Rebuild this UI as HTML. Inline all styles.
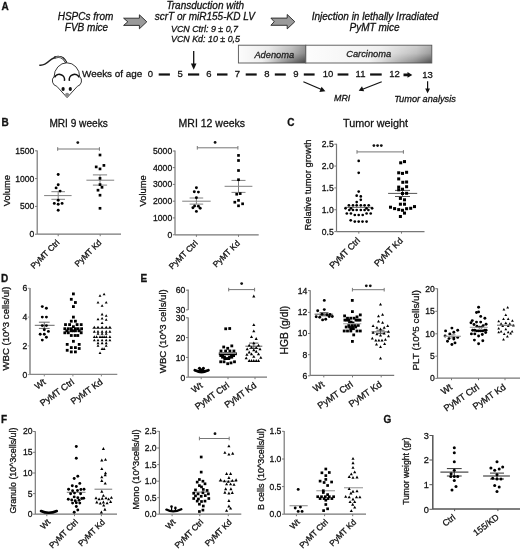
<!DOCTYPE html>
<html><head><meta charset="utf-8"><style>
html,body{margin:0;padding:0;background:#fff;}
svg{display:block;font-family:"Liberation Sans", sans-serif;filter:grayscale(1);}
text{stroke:#111;stroke-width:0.28px;paint-order:stroke;}
</style></head><body>
<svg width="520" height="549" viewBox="0 0 520 549">
<rect width="520" height="549" fill="#fff"/>
<text x="1.50" y="9.50" font-size="10" text-anchor="start" font-weight="bold" fill="#111">A</text>
<text x="85.50" y="20.30" font-size="10" text-anchor="middle" font-style="italic" fill="#111">HSPCs from</text>
<text x="86.50" y="31.00" font-size="10" text-anchor="middle" font-style="italic" fill="#111">FVB mice</text>
<path d="M123.6 18.2L139.4 18.2L139.4 14.8L146.8 21.8L139.4 28.8L139.4 25.400000000000002L123.6 25.400000000000002L127.8 21.8Z" fill="#9a9a9a" stroke="#222" stroke-width="0.9" stroke-linejoin="miter"/>
<path d="M270.9 18.099999999999998L287.2 18.099999999999998L287.2 14.5L294.8 21.7L287.2 28.9L287.2 25.3L270.9 25.3L274.2 21.7Z" fill="#9a9a9a" stroke="#222" stroke-width="0.9" stroke-linejoin="miter"/>
<text x="205.20" y="8.60" font-size="10" text-anchor="middle" font-style="italic" fill="#111">Transduction with</text>
<text x="204.80" y="20.10" font-size="10" text-anchor="middle" font-style="italic" fill="#111">scrT or miR155-KD LV</text>
<text x="204.50" y="31.80" font-size="8.9" text-anchor="middle" font-style="italic" fill="#111">VCN Ctrl: 9 ± 0,7</text>
<text x="205.50" y="42.40" font-size="8.9" text-anchor="middle" font-style="italic" fill="#111">VCN Kd: 10 ± 0,5</text>
<text x="375.00" y="20.00" font-size="10" text-anchor="middle" font-style="italic" fill="#111">Injection in lethally Irradiated</text>
<text x="374.60" y="31.00" font-size="10" text-anchor="middle" font-style="italic" fill="#111">PyMT mice</text>
<defs><linearGradient id="gA" x1="0" x2="1" y1="0" y2="0"><stop offset="0" stop-color="#fcfcfc"/><stop offset="0.45" stop-color="#ececec"/><stop offset="0.8" stop-color="#c4c4c4"/><stop offset="1" stop-color="#9a9a9a"/></linearGradient><linearGradient id="gC" x1="0" x2="1" y1="0" y2="0"><stop offset="0" stop-color="#fdfdfd"/><stop offset="0.6" stop-color="#f0f0f0"/><stop offset="0.88" stop-color="#d0d0d0"/><stop offset="1" stop-color="#b0b0b0"/></linearGradient><linearGradient id="gV" x1="0" x2="0" y1="0" y2="1"><stop offset="0" stop-color="#000" stop-opacity="0"/><stop offset="0.45" stop-color="#000" stop-opacity="0.12"/><stop offset="1" stop-color="#000" stop-opacity="0.55"/></linearGradient><linearGradient id="mhA" x1="0" x2="1" y1="0" y2="0"><stop offset="0" stop-color="#000"/><stop offset="0.35" stop-color="#000"/><stop offset="0.75" stop-color="#aaa"/><stop offset="1" stop-color="#fff"/></linearGradient><linearGradient id="mhC" x1="0" x2="1" y1="0" y2="0"><stop offset="0" stop-color="#000"/><stop offset="0.5" stop-color="#000"/><stop offset="0.85" stop-color="#999"/><stop offset="1" stop-color="#fff"/></linearGradient><mask id="mA" maskContentUnits="userSpaceOnUse"><rect x="238.4" y="45.2" width="67.4" height="17.8" fill="url(#mhA)"/></mask><mask id="mC" maskContentUnits="userSpaceOnUse"><rect x="305.8" y="45.2" width="126.0" height="17.8" fill="url(#mhC)"/></mask></defs>
<rect x="238.4" y="45.2" width="67.4" height="17.8" fill="url(#gA)"/>
<rect x="238.4" y="45.2" width="67.4" height="17.8" fill="url(#gV)" mask="url(#mA)"/>
<rect x="238.4" y="45.2" width="67.4" height="17.8" fill="none" stroke="#555" stroke-width="0.9"/>
<rect x="305.8" y="45.2" width="126.0" height="17.8" fill="url(#gC)"/>
<rect x="305.8" y="45.2" width="126.0" height="17.8" fill="url(#gV)" mask="url(#mC)"/>
<rect x="305.8" y="45.2" width="126.0" height="17.8" fill="none" stroke="#555" stroke-width="0.9"/>
<text x="274.30" y="57.60" font-size="9.3" text-anchor="middle" font-style="italic" fill="#222">Adenoma</text>
<text x="368.70" y="57.40" font-size="9.3" text-anchor="middle" font-style="italic" fill="#222">Carcinoma</text>
<text x="82.00" y="77.40" font-size="9.9" text-anchor="start" fill="#111">Weeks of age</text>
<text x="150.50" y="77.20" font-size="9.5" text-anchor="middle" fill="#111">0</text>
<text x="180.20" y="77.20" font-size="9.5" text-anchor="middle" fill="#111">5</text>
<text x="208.80" y="77.20" font-size="9.5" text-anchor="middle" fill="#111">6</text>
<text x="237.50" y="77.20" font-size="9.5" text-anchor="middle" fill="#111">7</text>
<text x="267.00" y="77.20" font-size="9.5" text-anchor="middle" fill="#111">8</text>
<text x="296.00" y="77.20" font-size="9.5" text-anchor="middle" fill="#111">9</text>
<text x="328.00" y="77.20" font-size="9.5" text-anchor="middle" fill="#111">10</text>
<text x="360.50" y="77.20" font-size="9.5" text-anchor="middle" fill="#111">11</text>
<text x="394.50" y="76.60" font-size="9.5" text-anchor="middle" fill="#111">12</text>
<text x="427.50" y="78.00" font-size="9.5" text-anchor="middle" fill="#111">13</text>
<rect x="158.7" y="73.4" width="11.2" height="2.2" fill="#111"/>
<rect x="188.0" y="73.4" width="11.2" height="2.2" fill="#111"/>
<rect x="217.0" y="73.4" width="10.5" height="2.2" fill="#111"/>
<rect x="245.7" y="73.4" width="11.0" height="2.2" fill="#111"/>
<rect x="274.8" y="73.4" width="11.0" height="2.2" fill="#111"/>
<rect x="303.8" y="73.4" width="10.8" height="2.2" fill="#111"/>
<rect x="337.6" y="73.4" width="10.8" height="2.2" fill="#111"/>
<rect x="370.1" y="73.4" width="11.6" height="2.2" fill="#111"/>
<path d="M403.5 73.6L407.5 73.6L407.5 72.0L412.3 74.9L407.5 77.8L407.5 76.2L403.5 76.2Z" fill="#111"/>
<line x1="193.70" y1="51.00" x2="193.70" y2="66.50" stroke="#111" stroke-width="1.3" stroke-linecap="butt"/>
<path d="M190.9 63.6L196.5 63.6L193.7 69.8Z" fill="#111"/>
<line x1="427.60" y1="81.30" x2="427.60" y2="90.50" stroke="#111" stroke-width="1.2" stroke-linecap="butt"/>
<path d="M425.2 88.4L430.0 88.4L427.6 93.2Z" fill="#111"/>
<line x1="303.40" y1="81.70" x2="321.50" y2="89.50" stroke="#111" stroke-width="1.2" stroke-linecap="butt"/>
<path d="M325.4 91.2L319.4 91.9L321.6 86.8Z" fill="#111"/>
<line x1="381.70" y1="81.70" x2="362.60" y2="89.20" stroke="#111" stroke-width="1.2" stroke-linecap="butt"/>
<path d="M358.7 90.8L362.0 86.2L364.2 91.3Z" fill="#111"/>
<text x="342.20" y="101.30" font-size="8.9" text-anchor="middle" font-style="italic" fill="#111">MRI</text>
<text x="425.00" y="102.00" font-size="9.2" text-anchor="middle" font-style="italic" fill="#111">Tumor analysis</text>
<path d="M39.8 65.2 C43.5 65.6 46.5 63.6 49.5 60.8 C52.5 58.0 55.5 56.8 58.8 56.9 C62.0 57.0 64.5 59.0 66.2 62.4" fill="none" stroke="#222" stroke-width="1.5" stroke-linecap="round"/>
<path d="M55.0 57.4 C56.5 56.9 57.7 56.8 58.8 56.9 C62.0 57.0 64.5 59.0 66.0 62.2" fill="none" stroke="#222" stroke-width="2.3" stroke-linecap="round"/>
<path d="M56.0 57.2 C57 56.95 57.8 56.9 58.8 56.95 C61.8 57.1 64.2 59.0 65.6 61.9" fill="none" stroke="#c8c8c8" stroke-width="0.9" stroke-linecap="round"/>
<path d="M54.1 76.8 A12.8 14.0 0 0 1 79.7 76.8" fill="#fff" stroke="#222" stroke-width="0.9"/>
<path d="M54.1 76.5 A5.8 5.8 0 0 0 56.8 86.3 L67.1 97.6 L77.4 86.3 A5.8 5.8 0 0 0 79.7 76.5" fill="#fff" stroke="#222" stroke-width="0.9" stroke-linejoin="round"/>
<path d="M54.5 77.3 A5.3 5.3 0 0 1 64.4 80.9" fill="none" stroke="#111" stroke-width="1.5"/>
<path d="M69.4 80.9 A5.3 5.3 0 0 1 79.3 77.3" fill="none" stroke="#111" stroke-width="1.5"/>
<ellipse cx="63.1" cy="89.0" rx="1.6" ry="1.9" fill="#111"/>
<ellipse cx="70.3" cy="89.0" rx="1.6" ry="1.9" fill="#111"/>
<circle cx="67.10" cy="94.80" r="2.0" fill="#8a8a8a"/>
<text x="1.50" y="125.80" font-size="10" text-anchor="start" font-weight="bold" fill="#111">B</text>
<text x="49.40" y="127.00" font-size="10.1" text-anchor="start" fill="#111">MRI 9 weeks</text>
<text x="178.60" y="126.70" font-size="10.5" text-anchor="start" fill="#111">MRI 12 weeks</text>
<line x1="37.20" y1="150.40" x2="37.20" y2="234.20" stroke="#777" stroke-width="1.2" stroke-linecap="butt"/>
<line x1="35.00" y1="150.80" x2="37.20" y2="150.80" stroke="#777" stroke-width="1" stroke-linecap="butt"/>
<text x="34.40" y="153.70" font-size="8.6" text-anchor="end" fill="#111">1500</text>
<line x1="35.00" y1="178.60" x2="37.20" y2="178.60" stroke="#777" stroke-width="1" stroke-linecap="butt"/>
<text x="34.40" y="181.50" font-size="8.6" text-anchor="end" fill="#111">1000</text>
<line x1="35.00" y1="206.40" x2="37.20" y2="206.40" stroke="#777" stroke-width="1" stroke-linecap="butt"/>
<text x="34.40" y="209.30" font-size="8.6" text-anchor="end" fill="#111">500</text>
<line x1="35.00" y1="234.20" x2="37.20" y2="234.20" stroke="#777" stroke-width="1" stroke-linecap="butt"/>
<text x="34.40" y="237.10" font-size="8.6" text-anchor="end" fill="#111">0</text>
<line x1="37.20" y1="234.20" x2="121.00" y2="234.20" stroke="#777" stroke-width="1.2" stroke-linecap="butt"/>
<line x1="58.20" y1="234.20" x2="58.20" y2="236.20" stroke="#777" stroke-width="1" stroke-linecap="butt"/>
<line x1="100.20" y1="234.20" x2="100.20" y2="236.20" stroke="#777" stroke-width="1" stroke-linecap="butt"/>
<text x="60.10" y="243.20" font-size="8.3" text-anchor="end" transform="rotate(-45 60.10 243.20)" fill="#111">PyMT Ctrl</text>
<text x="102.10" y="243.20" font-size="8.3" text-anchor="end" transform="rotate(-45 102.10 243.20)" fill="#111">PyMT Kd</text>
<text x="10.20" y="190.70" font-size="9.3" text-anchor="middle" transform="rotate(-90 10.20 190.70)" fill="#111">Volume</text>
<line x1="57.70" y1="149.00" x2="99.40" y2="149.00" stroke="#777" stroke-width="1" stroke-linecap="butt"/>
<line x1="57.70" y1="147.20" x2="57.70" y2="150.80" stroke="#777" stroke-width="1" stroke-linecap="butt"/>
<line x1="99.40" y1="147.20" x2="99.40" y2="150.80" stroke="#777" stroke-width="1" stroke-linecap="butt"/>
<circle cx="77.80" cy="142.60" r="1.4" fill="#111"/>
<line x1="44.10" y1="195.60" x2="71.60" y2="195.60" stroke="#808080" stroke-width="1.0" stroke-linecap="butt"/>
<line x1="51.40" y1="191.70" x2="65.00" y2="191.70" stroke="#808080" stroke-width="1.0" stroke-linecap="butt"/>
<line x1="51.40" y1="199.30" x2="65.00" y2="199.30" stroke="#808080" stroke-width="1.0" stroke-linecap="butt"/>
<line x1="58.20" y1="191.70" x2="58.20" y2="199.30" stroke="#808080" stroke-width="1.0" stroke-linecap="butt"/>
<line x1="86.40" y1="180.20" x2="114.20" y2="180.20" stroke="#808080" stroke-width="1.0" stroke-linecap="butt"/>
<line x1="92.90" y1="174.90" x2="107.10" y2="174.90" stroke="#808080" stroke-width="1.0" stroke-linecap="butt"/>
<line x1="92.90" y1="185.10" x2="107.10" y2="185.10" stroke="#808080" stroke-width="1.0" stroke-linecap="butt"/>
<line x1="100.00" y1="174.90" x2="100.00" y2="185.10" stroke="#808080" stroke-width="1.0" stroke-linecap="butt"/>
<line x1="175.00" y1="150.40" x2="175.00" y2="234.80" stroke="#777" stroke-width="1.2" stroke-linecap="butt"/>
<line x1="172.80" y1="151.00" x2="175.00" y2="151.00" stroke="#777" stroke-width="1" stroke-linecap="butt"/>
<text x="172.20" y="153.90" font-size="8.6" text-anchor="end" fill="#111">5000</text>
<line x1="172.80" y1="167.60" x2="175.00" y2="167.60" stroke="#777" stroke-width="1" stroke-linecap="butt"/>
<text x="172.20" y="170.50" font-size="8.6" text-anchor="end" fill="#111">4000</text>
<line x1="172.80" y1="184.40" x2="175.00" y2="184.40" stroke="#777" stroke-width="1" stroke-linecap="butt"/>
<text x="172.20" y="187.30" font-size="8.6" text-anchor="end" fill="#111">3000</text>
<line x1="172.80" y1="201.20" x2="175.00" y2="201.20" stroke="#777" stroke-width="1" stroke-linecap="butt"/>
<text x="172.20" y="204.10" font-size="8.6" text-anchor="end" fill="#111">2000</text>
<line x1="172.80" y1="217.90" x2="175.00" y2="217.90" stroke="#777" stroke-width="1" stroke-linecap="butt"/>
<text x="172.20" y="220.80" font-size="8.6" text-anchor="end" fill="#111">1000</text>
<line x1="172.80" y1="234.80" x2="175.00" y2="234.80" stroke="#777" stroke-width="1" stroke-linecap="butt"/>
<text x="172.20" y="237.70" font-size="8.6" text-anchor="end" fill="#111">0</text>
<line x1="175.00" y1="234.80" x2="258.70" y2="234.80" stroke="#777" stroke-width="1.2" stroke-linecap="butt"/>
<line x1="196.40" y1="234.80" x2="196.40" y2="236.80" stroke="#777" stroke-width="1" stroke-linecap="butt"/>
<line x1="238.50" y1="234.80" x2="238.50" y2="236.80" stroke="#777" stroke-width="1" stroke-linecap="butt"/>
<text x="198.30" y="243.80" font-size="8.3" text-anchor="end" transform="rotate(-45 198.30 243.80)" fill="#111">PyMT Ctrl</text>
<text x="240.40" y="243.80" font-size="8.3" text-anchor="end" transform="rotate(-45 240.40 243.80)" fill="#111">PyMT Kd</text>
<text x="146.50" y="190.90" font-size="9.3" text-anchor="middle" transform="rotate(-90 146.50 190.90)" fill="#111">Volume</text>
<line x1="197.30" y1="147.80" x2="237.90" y2="147.80" stroke="#777" stroke-width="1" stroke-linecap="butt"/>
<line x1="197.30" y1="146.00" x2="197.30" y2="149.60" stroke="#777" stroke-width="1" stroke-linecap="butt"/>
<line x1="237.90" y1="146.00" x2="237.90" y2="149.60" stroke="#777" stroke-width="1" stroke-linecap="butt"/>
<circle cx="215.10" cy="142.40" r="1.4" fill="#111"/>
<line x1="182.20" y1="201.20" x2="210.70" y2="201.20" stroke="#808080" stroke-width="1.0" stroke-linecap="butt"/>
<line x1="189.60" y1="198.00" x2="203.20" y2="198.00" stroke="#808080" stroke-width="1.0" stroke-linecap="butt"/>
<line x1="189.60" y1="204.10" x2="203.20" y2="204.10" stroke="#808080" stroke-width="1.0" stroke-linecap="butt"/>
<line x1="196.40" y1="198.00" x2="196.40" y2="204.10" stroke="#808080" stroke-width="1.0" stroke-linecap="butt"/>
<line x1="224.60" y1="186.30" x2="252.40" y2="186.30" stroke="#808080" stroke-width="1.0" stroke-linecap="butt"/>
<line x1="231.50" y1="180.40" x2="245.50" y2="180.40" stroke="#808080" stroke-width="1.0" stroke-linecap="butt"/>
<line x1="231.50" y1="192.40" x2="245.50" y2="192.40" stroke="#808080" stroke-width="1.0" stroke-linecap="butt"/>
<line x1="238.50" y1="180.40" x2="238.50" y2="192.40" stroke="#808080" stroke-width="1.0" stroke-linecap="butt"/>
<text x="287.20" y="125.80" font-size="10" text-anchor="start" font-weight="bold" fill="#111">C</text>
<text x="343.00" y="127.40" font-size="10.8" text-anchor="start" fill="#111">Tumor weight</text>
<line x1="336.50" y1="143.80" x2="336.50" y2="231.60" stroke="#777" stroke-width="1.2" stroke-linecap="butt"/>
<line x1="334.30" y1="144.20" x2="336.50" y2="144.20" stroke="#777" stroke-width="1" stroke-linecap="butt"/>
<text x="333.70" y="147.10" font-size="8.6" text-anchor="end" fill="#111">2.5</text>
<line x1="334.30" y1="166.05" x2="336.50" y2="166.05" stroke="#777" stroke-width="1" stroke-linecap="butt"/>
<text x="333.70" y="168.95" font-size="8.6" text-anchor="end" fill="#111">2.0</text>
<line x1="334.30" y1="187.90" x2="336.50" y2="187.90" stroke="#777" stroke-width="1" stroke-linecap="butt"/>
<text x="333.70" y="190.80" font-size="8.6" text-anchor="end" fill="#111">1.5</text>
<line x1="334.30" y1="209.75" x2="336.50" y2="209.75" stroke="#777" stroke-width="1" stroke-linecap="butt"/>
<text x="333.70" y="212.65" font-size="8.6" text-anchor="end" fill="#111">1.0</text>
<line x1="334.30" y1="231.60" x2="336.50" y2="231.60" stroke="#777" stroke-width="1" stroke-linecap="butt"/>
<text x="333.70" y="234.50" font-size="8.6" text-anchor="end" fill="#111">0.5</text>
<line x1="336.50" y1="231.60" x2="424.50" y2="231.60" stroke="#777" stroke-width="1.2" stroke-linecap="butt"/>
<line x1="358.80" y1="231.60" x2="358.80" y2="233.60" stroke="#777" stroke-width="1" stroke-linecap="butt"/>
<line x1="401.50" y1="231.60" x2="401.50" y2="233.60" stroke="#777" stroke-width="1" stroke-linecap="butt"/>
<text x="360.70" y="241.20" font-size="8.9" text-anchor="end" transform="rotate(-45 360.70 241.20)" fill="#111">PyMT Ctrl</text>
<text x="403.40" y="241.20" font-size="8.9" text-anchor="end" transform="rotate(-45 403.40 241.20)" fill="#111">PyMT Kd</text>
<text x="311.20" y="185.00" font-size="9.4" text-anchor="middle" transform="rotate(-90 311.20 185.00)" fill="#111">Relative tumor growth</text>
<line x1="357.00" y1="151.90" x2="403.40" y2="151.90" stroke="#777" stroke-width="1" stroke-linecap="butt"/>
<line x1="357.00" y1="150.10" x2="357.00" y2="153.70" stroke="#777" stroke-width="1" stroke-linecap="butt"/>
<line x1="403.40" y1="150.10" x2="403.40" y2="153.70" stroke="#777" stroke-width="1" stroke-linecap="butt"/>
<circle cx="373.90" cy="145.60" r="1.4" fill="#111"/>
<circle cx="377.60" cy="145.60" r="1.4" fill="#111"/>
<circle cx="381.30" cy="145.60" r="1.4" fill="#111"/>
<line x1="344.80" y1="207.30" x2="372.80" y2="207.30" stroke="#555" stroke-width="1.0" stroke-linecap="butt"/>
<line x1="388.10" y1="193.40" x2="417.20" y2="193.40" stroke="#555" stroke-width="1.0" stroke-linecap="butt"/>
<line x1="395.00" y1="190.40" x2="410.00" y2="190.40" stroke="#555" stroke-width="1.0" stroke-linecap="butt"/>
<line x1="395.00" y1="196.50" x2="410.00" y2="196.50" stroke="#555" stroke-width="1.0" stroke-linecap="butt"/>
<line x1="402.50" y1="190.40" x2="402.50" y2="196.50" stroke="#555" stroke-width="1.0" stroke-linecap="butt"/>
<text x="1.00" y="281.50" font-size="10" text-anchor="start" font-weight="bold" fill="#111">D</text>
<line x1="30.00" y1="288.00" x2="30.00" y2="374.60" stroke="#9a9a9a" stroke-width="1.8" stroke-linecap="butt"/>
<line x1="27.80" y1="288.30" x2="30.00" y2="288.30" stroke="#9a9a9a" stroke-width="1" stroke-linecap="butt"/>
<text x="27.20" y="291.20" font-size="8.6" text-anchor="end" fill="#111">6</text>
<line x1="27.80" y1="317.10" x2="30.00" y2="317.10" stroke="#9a9a9a" stroke-width="1" stroke-linecap="butt"/>
<text x="27.20" y="320.00" font-size="8.6" text-anchor="end" fill="#111">4</text>
<line x1="27.80" y1="345.90" x2="30.00" y2="345.90" stroke="#9a9a9a" stroke-width="1" stroke-linecap="butt"/>
<text x="27.20" y="348.80" font-size="8.6" text-anchor="end" fill="#111">2</text>
<line x1="27.80" y1="374.60" x2="30.00" y2="374.60" stroke="#9a9a9a" stroke-width="1" stroke-linecap="butt"/>
<text x="27.20" y="377.50" font-size="8.6" text-anchor="end" fill="#111">0</text>
<line x1="30.00" y1="374.40" x2="117.30" y2="374.40" stroke="#888" stroke-width="1.1" stroke-linecap="butt"/>
<line x1="44.30" y1="374.40" x2="44.30" y2="376.40" stroke="#888" stroke-width="1" stroke-linecap="butt"/>
<line x1="72.90" y1="374.40" x2="72.90" y2="376.40" stroke="#888" stroke-width="1" stroke-linecap="butt"/>
<line x1="101.40" y1="374.40" x2="101.40" y2="376.40" stroke="#888" stroke-width="1" stroke-linecap="butt"/>
<text x="46.30" y="383.20" font-size="9.0" text-anchor="end" transform="rotate(-36 46.30 383.20)" fill="#111">Wt</text>
<text x="74.90" y="383.20" font-size="9.0" text-anchor="end" transform="rotate(-36 74.90 383.20)" fill="#111">PyMT Ctrl</text>
<text x="103.40" y="383.20" font-size="9.0" text-anchor="end" transform="rotate(-36 103.40 383.20)" fill="#111">PyMT Kd</text>
<text x="9.40" y="328.60" font-size="9.6" text-anchor="middle" transform="rotate(-90 9.40 328.60)" fill="#111">WBC (10^3 cells/ul)</text>
<line x1="34.80" y1="325.30" x2="54.60" y2="325.30" stroke="#666" stroke-width="1.0" stroke-linecap="butt"/>
<line x1="38.90" y1="322.20" x2="49.70" y2="322.20" stroke="#666" stroke-width="1.0" stroke-linecap="butt"/>
<line x1="38.90" y1="328.40" x2="49.70" y2="328.40" stroke="#666" stroke-width="1.0" stroke-linecap="butt"/>
<line x1="44.30" y1="322.20" x2="44.30" y2="328.40" stroke="#666" stroke-width="1.0" stroke-linecap="butt"/>
<line x1="64.80" y1="331.00" x2="82.60" y2="331.00" stroke="#555" stroke-width="1.0" stroke-linecap="butt"/>
<line x1="92.50" y1="328.40" x2="111.60" y2="328.40" stroke="#555" stroke-width="1.0" stroke-linecap="butt"/>
<text x="140.60" y="281.50" font-size="10" text-anchor="start" font-weight="bold" fill="#111">E</text>
<line x1="188.20" y1="289.60" x2="188.20" y2="310.00" stroke="#777" stroke-width="1.2" stroke-linecap="butt"/>
<line x1="186.00" y1="290.20" x2="188.20" y2="290.20" stroke="#777" stroke-width="1" stroke-linecap="butt"/>
<text x="185.40" y="293.20" font-size="8.6" text-anchor="end" fill="#111">60</text>
<line x1="186.00" y1="309.90" x2="188.20" y2="309.90" stroke="#777" stroke-width="1" stroke-linecap="butt"/>
<text x="185.40" y="312.90" font-size="8.6" text-anchor="end" fill="#111">30</text>
<line x1="188.20" y1="317.40" x2="188.20" y2="377.30" stroke="#777" stroke-width="1.2" stroke-linecap="butt"/>
<line x1="186.00" y1="317.80" x2="188.20" y2="317.80" stroke="#777" stroke-width="1" stroke-linecap="butt"/>
<text x="185.40" y="321.30" font-size="8.6" text-anchor="end" fill="#111">30</text>
<line x1="186.00" y1="337.60" x2="188.20" y2="337.60" stroke="#777" stroke-width="1" stroke-linecap="butt"/>
<text x="185.40" y="341.10" font-size="8.6" text-anchor="end" fill="#111">20</text>
<line x1="186.00" y1="357.40" x2="188.20" y2="357.40" stroke="#777" stroke-width="1" stroke-linecap="butt"/>
<text x="185.40" y="360.90" font-size="8.6" text-anchor="end" fill="#111">10</text>
<line x1="186.00" y1="377.20" x2="188.20" y2="377.20" stroke="#777" stroke-width="1" stroke-linecap="butt"/>
<text x="185.40" y="380.70" font-size="8.6" text-anchor="end" fill="#111">0</text>
<line x1="188.20" y1="377.20" x2="267.00" y2="377.20" stroke="#777" stroke-width="1.2" stroke-linecap="butt"/>
<line x1="201.20" y1="377.20" x2="201.20" y2="379.20" stroke="#777" stroke-width="1" stroke-linecap="butt"/>
<line x1="228.00" y1="377.20" x2="228.00" y2="379.20" stroke="#777" stroke-width="1" stroke-linecap="butt"/>
<line x1="255.00" y1="377.20" x2="255.00" y2="379.20" stroke="#777" stroke-width="1" stroke-linecap="butt"/>
<text x="203.20" y="386.70" font-size="9.0" text-anchor="end" transform="rotate(-36 203.20 386.70)" fill="#111">Wt</text>
<text x="230.00" y="386.70" font-size="9.0" text-anchor="end" transform="rotate(-36 230.00 386.70)" fill="#111">PyMT Ctrl</text>
<text x="257.00" y="386.70" font-size="9.0" text-anchor="end" transform="rotate(-36 257.00 386.70)" fill="#111">PyMT Kd</text>
<text x="166.00" y="331.20" font-size="9.6" text-anchor="middle" transform="rotate(-90 166.00 331.20)" fill="#111">WBC (10^3 cells/ul)</text>
<line x1="228.70" y1="289.60" x2="254.60" y2="289.60" stroke="#777" stroke-width="1" stroke-linecap="butt"/>
<line x1="228.70" y1="287.80" x2="228.70" y2="291.40" stroke="#777" stroke-width="1" stroke-linecap="butt"/>
<line x1="254.60" y1="287.80" x2="254.60" y2="291.40" stroke="#777" stroke-width="1" stroke-linecap="butt"/>
<circle cx="241.65" cy="283.60" r="1.4" fill="#111"/>
<path d="M194.8 370.3 Q201.5 373.4 208.4 370.3" fill="none" stroke="#000" stroke-width="2.8" stroke-linecap="round"/>
<ellipse cx="201.5" cy="371.4" rx="4.2" ry="1.9" fill="#000"/>
<circle cx="199.50" cy="368.30" r="1.55" fill="#000"/>
<circle cx="203.40" cy="368.30" r="1.55" fill="#000"/>
<rect x="199.0" y="368.5" width="5" height="3.5" fill="#000"/>
<line x1="245.40" y1="346.20" x2="262.30" y2="346.20" stroke="#555" stroke-width="1.0" stroke-linecap="butt"/>
<line x1="249.20" y1="343.10" x2="258.40" y2="343.10" stroke="#555" stroke-width="1.0" stroke-linecap="butt"/>
<line x1="249.20" y1="348.50" x2="258.40" y2="348.50" stroke="#555" stroke-width="1.0" stroke-linecap="butt"/>
<line x1="253.80" y1="343.10" x2="253.80" y2="348.50" stroke="#555" stroke-width="1.0" stroke-linecap="butt"/>
<line x1="310.20" y1="290.20" x2="310.20" y2="375.80" stroke="#777" stroke-width="1.2" stroke-linecap="butt"/>
<line x1="308.00" y1="290.60" x2="310.20" y2="290.60" stroke="#777" stroke-width="1" stroke-linecap="butt"/>
<text x="307.40" y="293.50" font-size="8.6" text-anchor="end" fill="#111">14</text>
<line x1="308.00" y1="312.40" x2="310.20" y2="312.40" stroke="#777" stroke-width="1" stroke-linecap="butt"/>
<text x="307.40" y="315.30" font-size="8.6" text-anchor="end" fill="#111">12</text>
<line x1="308.00" y1="333.50" x2="310.20" y2="333.50" stroke="#777" stroke-width="1" stroke-linecap="butt"/>
<text x="307.40" y="336.40" font-size="8.6" text-anchor="end" fill="#111">10</text>
<line x1="308.00" y1="354.70" x2="310.20" y2="354.70" stroke="#777" stroke-width="1" stroke-linecap="butt"/>
<text x="307.40" y="357.60" font-size="8.6" text-anchor="end" fill="#111">8</text>
<line x1="308.00" y1="375.80" x2="310.20" y2="375.80" stroke="#777" stroke-width="1" stroke-linecap="butt"/>
<text x="307.40" y="378.70" font-size="8.6" text-anchor="end" fill="#111">6</text>
<line x1="310.20" y1="375.40" x2="394.20" y2="375.40" stroke="#777" stroke-width="1.2" stroke-linecap="butt"/>
<line x1="323.80" y1="375.40" x2="323.80" y2="377.40" stroke="#777" stroke-width="1" stroke-linecap="butt"/>
<line x1="352.50" y1="375.40" x2="352.50" y2="377.40" stroke="#777" stroke-width="1" stroke-linecap="butt"/>
<line x1="381.20" y1="375.40" x2="381.20" y2="377.40" stroke="#777" stroke-width="1" stroke-linecap="butt"/>
<text x="325.00" y="385.90" font-size="9.2" text-anchor="end" transform="rotate(-35 325.00 385.90)" fill="#111">Wt</text>
<text x="353.70" y="385.90" font-size="9.2" text-anchor="end" transform="rotate(-35 353.70 385.90)" fill="#111">PyMT Ctrl</text>
<text x="382.40" y="385.90" font-size="9.2" text-anchor="end" transform="rotate(-35 382.40 385.90)" fill="#111">PyMT Kd</text>
<text x="288.30" y="330.20" font-size="10.3" text-anchor="middle" transform="rotate(-90 288.30 330.20)" fill="#111">HGB (g/dl)</text>
<line x1="352.40" y1="289.70" x2="384.20" y2="289.70" stroke="#777" stroke-width="1" stroke-linecap="butt"/>
<line x1="352.40" y1="287.90" x2="352.40" y2="291.50" stroke="#777" stroke-width="1" stroke-linecap="butt"/>
<line x1="384.20" y1="287.90" x2="384.20" y2="291.50" stroke="#777" stroke-width="1" stroke-linecap="butt"/>
<circle cx="366.30" cy="285.80" r="1.4" fill="#111"/>
<circle cx="370.30" cy="285.80" r="1.4" fill="#111"/>
<line x1="314.60" y1="314.20" x2="333.10" y2="314.20" stroke="#555" stroke-width="1.0" stroke-linecap="butt"/>
<line x1="319.50" y1="312.70" x2="328.50" y2="312.70" stroke="#555" stroke-width="1.0" stroke-linecap="butt"/>
<line x1="319.50" y1="315.80" x2="328.50" y2="315.80" stroke="#555" stroke-width="1.0" stroke-linecap="butt"/>
<line x1="324.00" y1="312.70" x2="324.00" y2="315.80" stroke="#555" stroke-width="1.0" stroke-linecap="butt"/>
<line x1="371.50" y1="331.90" x2="389.20" y2="331.90" stroke="#555" stroke-width="1.0" stroke-linecap="butt"/>
<line x1="376.50" y1="330.20" x2="384.50" y2="330.20" stroke="#555" stroke-width="1.0" stroke-linecap="butt"/>
<line x1="376.50" y1="333.60" x2="384.50" y2="333.60" stroke="#555" stroke-width="1.0" stroke-linecap="butt"/>
<line x1="380.50" y1="330.20" x2="380.50" y2="333.60" stroke="#555" stroke-width="1.0" stroke-linecap="butt"/>
<line x1="437.50" y1="288.40" x2="437.50" y2="378.40" stroke="#777" stroke-width="1.2" stroke-linecap="butt"/>
<line x1="435.30" y1="288.70" x2="437.50" y2="288.70" stroke="#777" stroke-width="1" stroke-linecap="butt"/>
<text x="434.70" y="291.60" font-size="8.6" text-anchor="end" fill="#111">20</text>
<line x1="435.30" y1="311.30" x2="437.50" y2="311.30" stroke="#777" stroke-width="1" stroke-linecap="butt"/>
<text x="434.70" y="314.20" font-size="8.6" text-anchor="end" fill="#111">15</text>
<line x1="435.30" y1="333.80" x2="437.50" y2="333.80" stroke="#777" stroke-width="1" stroke-linecap="butt"/>
<text x="434.70" y="336.70" font-size="8.6" text-anchor="end" fill="#111">10</text>
<line x1="435.30" y1="356.20" x2="437.50" y2="356.20" stroke="#777" stroke-width="1" stroke-linecap="butt"/>
<text x="434.70" y="359.10" font-size="8.6" text-anchor="end" fill="#111">5</text>
<line x1="435.30" y1="378.40" x2="437.50" y2="378.40" stroke="#777" stroke-width="1" stroke-linecap="butt"/>
<text x="434.70" y="381.30" font-size="8.6" text-anchor="end" fill="#111">0</text>
<line x1="437.50" y1="378.20" x2="520.00" y2="378.20" stroke="#777" stroke-width="1.2" stroke-linecap="butt"/>
<line x1="451.50" y1="378.20" x2="451.50" y2="380.20" stroke="#777" stroke-width="1" stroke-linecap="butt"/>
<line x1="478.50" y1="378.20" x2="478.50" y2="380.20" stroke="#777" stroke-width="1" stroke-linecap="butt"/>
<line x1="505.00" y1="378.20" x2="505.00" y2="380.20" stroke="#777" stroke-width="1" stroke-linecap="butt"/>
<text x="452.90" y="388.50" font-size="9.2" text-anchor="end" transform="rotate(-35 452.90 388.50)" fill="#111">Wt</text>
<text x="479.90" y="388.50" font-size="9.2" text-anchor="end" transform="rotate(-35 479.90 388.50)" fill="#111">PyMT Ctrl</text>
<text x="506.40" y="388.50" font-size="9.2" text-anchor="end" transform="rotate(-35 506.40 388.50)" fill="#111">PyMT Kd</text>
<text x="419.00" y="330.20" font-size="9.9" text-anchor="middle" transform="rotate(-90 419.00 330.20)" fill="#111">PLT (10^5 cells/ul)</text>
<line x1="448.50" y1="334.50" x2="455.50" y2="334.50" stroke="#aaa" stroke-width="1.2" stroke-linecap="butt"/>
<line x1="448.50" y1="338.00" x2="455.50" y2="338.00" stroke="#aaa" stroke-width="1.2" stroke-linecap="butt"/>
<line x1="452.00" y1="334.50" x2="452.00" y2="338.00" stroke="#aaa" stroke-width="1.2" stroke-linecap="butt"/>
<text x="1.00" y="423.00" font-size="10" text-anchor="start" font-weight="bold" fill="#111">F</text>
<line x1="35.30" y1="431.20" x2="35.30" y2="514.20" stroke="#777" stroke-width="1.2" stroke-linecap="butt"/>
<line x1="33.10" y1="431.50" x2="35.30" y2="431.50" stroke="#777" stroke-width="1" stroke-linecap="butt"/>
<text x="32.50" y="434.40" font-size="8.6" text-anchor="end" fill="#111">20</text>
<line x1="33.10" y1="452.30" x2="35.30" y2="452.30" stroke="#777" stroke-width="1" stroke-linecap="butt"/>
<text x="32.50" y="455.20" font-size="8.6" text-anchor="end" fill="#111">15</text>
<line x1="33.10" y1="473.00" x2="35.30" y2="473.00" stroke="#777" stroke-width="1" stroke-linecap="butt"/>
<text x="32.50" y="475.90" font-size="8.6" text-anchor="end" fill="#111">10</text>
<line x1="33.10" y1="493.60" x2="35.30" y2="493.60" stroke="#777" stroke-width="1" stroke-linecap="butt"/>
<text x="32.50" y="496.50" font-size="8.6" text-anchor="end" fill="#111">5</text>
<line x1="33.10" y1="514.20" x2="35.30" y2="514.20" stroke="#777" stroke-width="1" stroke-linecap="butt"/>
<text x="32.50" y="517.10" font-size="8.6" text-anchor="end" fill="#111">0</text>
<line x1="35.30" y1="514.20" x2="117.00" y2="514.20" stroke="#777" stroke-width="1.2" stroke-linecap="butt"/>
<line x1="46.80" y1="514.20" x2="46.80" y2="516.20" stroke="#777" stroke-width="1" stroke-linecap="butt"/>
<line x1="74.50" y1="514.20" x2="74.50" y2="516.20" stroke="#777" stroke-width="1" stroke-linecap="butt"/>
<line x1="101.40" y1="514.20" x2="101.40" y2="516.20" stroke="#777" stroke-width="1" stroke-linecap="butt"/>
<text x="50.90" y="522.70" font-size="8.3" text-anchor="end" transform="rotate(-45 50.90 522.70)" fill="#111">Wt</text>
<text x="78.60" y="522.70" font-size="8.3" text-anchor="end" transform="rotate(-45 78.60 522.70)" fill="#111">PyMT Ctrl</text>
<text x="105.50" y="522.70" font-size="8.3" text-anchor="end" transform="rotate(-45 105.50 522.70)" fill="#111">PyMT Kd</text>
<text x="15.60" y="470.60" font-size="8.9" text-anchor="middle" transform="rotate(-90 15.60 470.60)" fill="#111">Granulo (10^3cells/ul)</text>
<path d="M41.0 511.0 Q48.6 514.6 56.8 511.0" fill="none" stroke="#000" stroke-width="2.6" stroke-linecap="round"/>
<line x1="66.80" y1="492.30" x2="85.50" y2="492.30" stroke="#777" stroke-width="1.0" stroke-linecap="butt"/>
<line x1="94.50" y1="489.20" x2="112.20" y2="489.20" stroke="#777" stroke-width="1.0" stroke-linecap="butt"/>
<line x1="159.40" y1="431.00" x2="159.40" y2="514.20" stroke="#777" stroke-width="1.2" stroke-linecap="butt"/>
<line x1="157.20" y1="431.30" x2="159.40" y2="431.30" stroke="#777" stroke-width="1" stroke-linecap="butt"/>
<text x="156.60" y="434.20" font-size="8.6" text-anchor="end" fill="#111">2.5</text>
<line x1="157.20" y1="448.00" x2="159.40" y2="448.00" stroke="#777" stroke-width="1" stroke-linecap="butt"/>
<text x="156.60" y="450.90" font-size="8.6" text-anchor="end" fill="#111">2.0</text>
<line x1="157.20" y1="464.60" x2="159.40" y2="464.60" stroke="#777" stroke-width="1" stroke-linecap="butt"/>
<text x="156.60" y="467.50" font-size="8.6" text-anchor="end" fill="#111">1.5</text>
<line x1="157.20" y1="481.20" x2="159.40" y2="481.20" stroke="#777" stroke-width="1" stroke-linecap="butt"/>
<text x="156.60" y="484.10" font-size="8.6" text-anchor="end" fill="#111">1.0</text>
<line x1="157.20" y1="497.70" x2="159.40" y2="497.70" stroke="#777" stroke-width="1" stroke-linecap="butt"/>
<text x="156.60" y="500.60" font-size="8.6" text-anchor="end" fill="#111">0.5</text>
<line x1="157.20" y1="514.20" x2="159.40" y2="514.20" stroke="#777" stroke-width="1" stroke-linecap="butt"/>
<text x="156.60" y="517.10" font-size="8.6" text-anchor="end" fill="#111">0.0</text>
<line x1="159.40" y1="514.20" x2="241.30" y2="514.20" stroke="#777" stroke-width="1.2" stroke-linecap="butt"/>
<line x1="172.10" y1="514.20" x2="172.10" y2="516.20" stroke="#777" stroke-width="1" stroke-linecap="butt"/>
<line x1="199.80" y1="514.20" x2="199.80" y2="516.20" stroke="#777" stroke-width="1" stroke-linecap="butt"/>
<line x1="228.30" y1="514.20" x2="228.30" y2="516.20" stroke="#777" stroke-width="1" stroke-linecap="butt"/>
<text x="176.20" y="522.70" font-size="8.3" text-anchor="end" transform="rotate(-45 176.20 522.70)" fill="#111">Wt</text>
<text x="203.90" y="522.70" font-size="8.3" text-anchor="end" transform="rotate(-45 203.90 522.70)" fill="#111">PyMT Ctrl</text>
<text x="232.40" y="522.70" font-size="8.3" text-anchor="end" transform="rotate(-45 232.40 522.70)" fill="#111">PyMT Kd</text>
<text x="139.20" y="469.50" font-size="9.3" text-anchor="middle" transform="rotate(-90 139.20 469.50)" fill="#111">Mono (10^3cells/ul)</text>
<line x1="199.40" y1="438.50" x2="229.20" y2="438.50" stroke="#777" stroke-width="1" stroke-linecap="butt"/>
<line x1="199.40" y1="436.70" x2="199.40" y2="440.30" stroke="#777" stroke-width="1" stroke-linecap="butt"/>
<line x1="229.20" y1="436.70" x2="229.20" y2="440.30" stroke="#777" stroke-width="1" stroke-linecap="butt"/>
<circle cx="215.00" cy="433.70" r="1.4" fill="#111"/>
<path d="M166.4 509.6 Q173.0 513.4 181.3 509.3" fill="none" stroke="#000" stroke-width="2.3" stroke-linecap="round"/>
<circle cx="171.50" cy="506.60" r="1.3" fill="#000"/>
<circle cx="175.40" cy="507.90" r="1.3" fill="#000"/>
<rect x="171.0" y="507.0" width="1.2" height="3.5" fill="#000"/>
<rect x="174.8" y="508.0" width="1.2" height="2.5" fill="#000"/>
<line x1="192.90" y1="492.10" x2="209.30" y2="492.10" stroke="#777" stroke-width="1.0" stroke-linecap="butt"/>
<line x1="218.80" y1="481.20" x2="237.00" y2="481.20" stroke="#777" stroke-width="1.0" stroke-linecap="butt"/>
<line x1="284.20" y1="431.00" x2="284.20" y2="514.20" stroke="#777" stroke-width="1.2" stroke-linecap="butt"/>
<line x1="282.00" y1="431.30" x2="284.20" y2="431.30" stroke="#777" stroke-width="1" stroke-linecap="butt"/>
<text x="281.40" y="434.20" font-size="8.6" text-anchor="end" fill="#111">1.5</text>
<line x1="282.00" y1="459.00" x2="284.20" y2="459.00" stroke="#777" stroke-width="1" stroke-linecap="butt"/>
<text x="281.40" y="461.90" font-size="8.6" text-anchor="end" fill="#111">1.0</text>
<line x1="282.00" y1="486.60" x2="284.20" y2="486.60" stroke="#777" stroke-width="1" stroke-linecap="butt"/>
<text x="281.40" y="489.50" font-size="8.6" text-anchor="end" fill="#111">0.5</text>
<line x1="282.00" y1="514.20" x2="284.20" y2="514.20" stroke="#777" stroke-width="1" stroke-linecap="butt"/>
<text x="281.40" y="517.10" font-size="8.6" text-anchor="end" fill="#111">0.0</text>
<line x1="284.20" y1="514.20" x2="366.00" y2="514.20" stroke="#777" stroke-width="1.2" stroke-linecap="butt"/>
<line x1="296.40" y1="514.20" x2="296.40" y2="516.20" stroke="#777" stroke-width="1" stroke-linecap="butt"/>
<line x1="324.60" y1="514.20" x2="324.60" y2="516.20" stroke="#777" stroke-width="1" stroke-linecap="butt"/>
<line x1="352.70" y1="514.20" x2="352.70" y2="516.20" stroke="#777" stroke-width="1" stroke-linecap="butt"/>
<text x="300.50" y="522.70" font-size="8.3" text-anchor="end" transform="rotate(-45 300.50 522.70)" fill="#111">Wt</text>
<text x="328.70" y="522.70" font-size="8.3" text-anchor="end" transform="rotate(-45 328.70 522.70)" fill="#111">PyMT Ctrl</text>
<text x="356.80" y="522.70" font-size="8.3" text-anchor="end" transform="rotate(-45 356.80 522.70)" fill="#111">PyMT Kd</text>
<text x="263.60" y="469.10" font-size="9.0" text-anchor="middle" transform="rotate(-90 263.60 469.10)" fill="#111">B cells (10^3cells/ul)</text>
<line x1="289.50" y1="505.70" x2="307.70" y2="505.70" stroke="#999" stroke-width="1.2" stroke-linecap="butt"/>
<line x1="316.30" y1="490.70" x2="335.00" y2="490.70" stroke="#aaa" stroke-width="1.3" stroke-linecap="butt"/>
<line x1="344.00" y1="487.70" x2="363.00" y2="487.70" stroke="#aaa" stroke-width="1.3" stroke-linecap="butt"/>
<text x="383.60" y="422.90" font-size="10" text-anchor="start" font-weight="bold" fill="#111">G</text>
<line x1="432.80" y1="435.00" x2="432.80" y2="509.30" stroke="#555" stroke-width="1.5" stroke-linecap="butt"/>
<line x1="429.40" y1="435.50" x2="432.80" y2="435.50" stroke="#555" stroke-width="1" stroke-linecap="butt"/>
<text x="428.80" y="438.70" font-size="9.2" text-anchor="end" fill="#111">3</text>
<line x1="429.40" y1="460.00" x2="432.80" y2="460.00" stroke="#555" stroke-width="1" stroke-linecap="butt"/>
<text x="428.80" y="463.20" font-size="9.2" text-anchor="end" fill="#111">2</text>
<line x1="429.40" y1="484.70" x2="432.80" y2="484.70" stroke="#555" stroke-width="1" stroke-linecap="butt"/>
<text x="428.80" y="487.90" font-size="9.2" text-anchor="end" fill="#111">1</text>
<line x1="429.40" y1="509.30" x2="432.80" y2="509.30" stroke="#555" stroke-width="1" stroke-linecap="butt"/>
<text x="428.80" y="512.50" font-size="9.2" text-anchor="end" fill="#111">0</text>
<line x1="432.80" y1="509.10" x2="520.00" y2="509.10" stroke="#555" stroke-width="1.5" stroke-linecap="butt"/>
<line x1="454.60" y1="509.10" x2="454.60" y2="511.10" stroke="#555" stroke-width="1" stroke-linecap="butt"/>
<line x1="497.90" y1="509.10" x2="497.90" y2="511.10" stroke="#555" stroke-width="1" stroke-linecap="butt"/>
<text x="456.20" y="518.50" font-size="8.8" text-anchor="end" transform="rotate(-37 456.20 518.50)" fill="#111">Ctrl</text>
<text x="499.50" y="518.50" font-size="8.8" text-anchor="end" transform="rotate(-37 499.50 518.50)" fill="#111">155/KD</text>
<text x="409.00" y="471.10" font-size="8.6" text-anchor="middle" transform="rotate(-90 409.00 471.10)" fill="#111">Tumor weight (gr)</text>
<line x1="440.40" y1="472.10" x2="468.40" y2="472.10" stroke="#333" stroke-width="1.1" stroke-linecap="butt"/>
<line x1="446.90" y1="468.60" x2="461.70" y2="468.60" stroke="#333" stroke-width="1.0" stroke-linecap="butt"/>
<line x1="446.90" y1="476.00" x2="461.70" y2="476.00" stroke="#333" stroke-width="1.0" stroke-linecap="butt"/>
<line x1="454.30" y1="468.60" x2="454.30" y2="476.00" stroke="#333" stroke-width="1.0" stroke-linecap="butt"/>
<line x1="483.10" y1="476.00" x2="510.00" y2="476.00" stroke="#333" stroke-width="1.1" stroke-linecap="butt"/>
<line x1="490.00" y1="473.10" x2="504.00" y2="473.10" stroke="#333" stroke-width="1.0" stroke-linecap="butt"/>
<line x1="490.00" y1="479.00" x2="504.00" y2="479.00" stroke="#333" stroke-width="1.0" stroke-linecap="butt"/>
<line x1="497.00" y1="473.10" x2="497.00" y2="479.00" stroke="#333" stroke-width="1.0" stroke-linecap="butt"/>
<circle cx="58.20" cy="174.50" r="1.4560000000000002" fill="#000"/>
<circle cx="58.20" cy="184.80" r="1.4560000000000002" fill="#000"/>
<circle cx="56.10" cy="187.90" r="1.4560000000000002" fill="#000"/>
<circle cx="60.10" cy="191.10" r="1.4560000000000002" fill="#000"/>
<circle cx="58.20" cy="200.20" r="1.4560000000000002" fill="#000"/>
<circle cx="54.30" cy="203.40" r="1.4560000000000002" fill="#000"/>
<circle cx="58.20" cy="204.30" r="1.4560000000000002" fill="#000"/>
<circle cx="62.10" cy="203.40" r="1.4560000000000002" fill="#000"/>
<circle cx="58.20" cy="210.30" r="1.4560000000000002" fill="#000"/>
<rect x="98.66" y="153.66" width="2.688" height="2.688" fill="#000"/>
<rect x="94.86" y="165.56" width="2.688" height="2.688" fill="#000"/>
<rect x="102.56" y="164.06" width="2.688" height="2.688" fill="#000"/>
<rect x="98.66" y="167.56" width="2.688" height="2.688" fill="#000"/>
<rect x="98.66" y="177.06" width="2.688" height="2.688" fill="#000"/>
<rect x="98.66" y="183.26" width="2.688" height="2.688" fill="#000"/>
<rect x="100.66" y="185.96" width="2.688" height="2.688" fill="#000"/>
<rect x="96.66" y="188.86" width="2.688" height="2.688" fill="#000"/>
<rect x="98.66" y="193.86" width="2.688" height="2.688" fill="#000"/>
<rect x="98.66" y="206.96" width="2.688" height="2.688" fill="#000"/>
<circle cx="196.40" cy="187.70" r="1.4560000000000002" fill="#000"/>
<circle cx="194.30" cy="191.80" r="1.4560000000000002" fill="#000"/>
<circle cx="198.40" cy="192.10" r="1.4560000000000002" fill="#000"/>
<circle cx="196.40" cy="197.70" r="1.4560000000000002" fill="#000"/>
<circle cx="194.60" cy="206.00" r="1.4560000000000002" fill="#000"/>
<circle cx="192.90" cy="207.70" r="1.4560000000000002" fill="#000"/>
<circle cx="198.40" cy="206.30" r="1.4560000000000002" fill="#000"/>
<circle cx="200.20" cy="208.20" r="1.4560000000000002" fill="#000"/>
<circle cx="196.40" cy="211.40" r="1.4560000000000002" fill="#000"/>
<rect x="237.16" y="154.06" width="2.688" height="2.688" fill="#000"/>
<rect x="237.16" y="159.16" width="2.688" height="2.688" fill="#000"/>
<rect x="237.16" y="169.16" width="2.688" height="2.688" fill="#000"/>
<rect x="237.16" y="178.36" width="2.688" height="2.688" fill="#000"/>
<rect x="235.36" y="192.86" width="2.688" height="2.688" fill="#000"/>
<rect x="238.86" y="192.26" width="2.688" height="2.688" fill="#000"/>
<rect x="233.46" y="200.86" width="2.688" height="2.688" fill="#000"/>
<rect x="237.16" y="199.06" width="2.688" height="2.688" fill="#000"/>
<rect x="241.26" y="202.46" width="2.688" height="2.688" fill="#000"/>
<rect x="237.16" y="204.46" width="2.688" height="2.688" fill="#000"/>
<circle cx="358.70" cy="160.90" r="1.344" fill="#000"/>
<circle cx="358.70" cy="172.80" r="1.344" fill="#000"/>
<circle cx="358.70" cy="191.60" r="1.344" fill="#000"/>
<circle cx="356.70" cy="195.70" r="1.344" fill="#000"/>
<circle cx="360.80" cy="196.40" r="1.344" fill="#000"/>
<circle cx="360.80" cy="199.80" r="1.344" fill="#000"/>
<circle cx="356.70" cy="202.10" r="1.344" fill="#000"/>
<circle cx="348.90" cy="205.30" r="1.344" fill="#000"/>
<circle cx="353.00" cy="205.30" r="1.344" fill="#000"/>
<circle cx="356.70" cy="205.30" r="1.344" fill="#000"/>
<circle cx="360.80" cy="205.30" r="1.344" fill="#000"/>
<circle cx="364.60" cy="205.30" r="1.344" fill="#000"/>
<circle cx="368.70" cy="205.30" r="1.344" fill="#000"/>
<circle cx="345.50" cy="208.30" r="1.344" fill="#000"/>
<circle cx="372.10" cy="208.30" r="1.344" fill="#000"/>
<circle cx="351.00" cy="208.30" r="1.344" fill="#000"/>
<circle cx="366.50" cy="208.30" r="1.344" fill="#000"/>
<circle cx="349.30" cy="210.00" r="1.344" fill="#000"/>
<circle cx="353.00" cy="210.00" r="1.344" fill="#000"/>
<circle cx="356.70" cy="210.00" r="1.344" fill="#000"/>
<circle cx="360.80" cy="210.00" r="1.344" fill="#000"/>
<circle cx="364.60" cy="210.00" r="1.344" fill="#000"/>
<circle cx="368.40" cy="210.00" r="1.344" fill="#000"/>
<circle cx="346.80" cy="213.50" r="1.344" fill="#000"/>
<circle cx="350.90" cy="213.50" r="1.344" fill="#000"/>
<circle cx="366.60" cy="213.50" r="1.344" fill="#000"/>
<circle cx="370.70" cy="213.50" r="1.344" fill="#000"/>
<circle cx="354.80" cy="215.00" r="1.344" fill="#000"/>
<circle cx="358.70" cy="215.00" r="1.344" fill="#000"/>
<circle cx="362.70" cy="215.00" r="1.344" fill="#000"/>
<circle cx="350.70" cy="220.30" r="1.344" fill="#000"/>
<circle cx="354.80" cy="221.60" r="1.344" fill="#000"/>
<circle cx="358.70" cy="221.60" r="1.344" fill="#000"/>
<circle cx="362.50" cy="221.60" r="1.344" fill="#000"/>
<circle cx="366.60" cy="221.60" r="1.344" fill="#000"/>
<rect x="399.19" y="161.29" width="3.0240000000000005" height="3.0240000000000005" fill="#000"/>
<rect x="402.99" y="160.09" width="3.0240000000000005" height="3.0240000000000005" fill="#000"/>
<rect x="397.19" y="171.29" width="3.0240000000000005" height="3.0240000000000005" fill="#000"/>
<rect x="400.99" y="171.89" width="3.0240000000000005" height="3.0240000000000005" fill="#000"/>
<rect x="405.09" y="170.79" width="3.0240000000000005" height="3.0240000000000005" fill="#000"/>
<rect x="397.19" y="177.39" width="3.0240000000000005" height="3.0240000000000005" fill="#000"/>
<rect x="401.29" y="180.79" width="3.0240000000000005" height="3.0240000000000005" fill="#000"/>
<rect x="405.09" y="180.49" width="3.0240000000000005" height="3.0240000000000005" fill="#000"/>
<rect x="397.19" y="185.59" width="3.0240000000000005" height="3.0240000000000005" fill="#000"/>
<rect x="405.09" y="185.19" width="3.0240000000000005" height="3.0240000000000005" fill="#000"/>
<rect x="397.19" y="188.29" width="3.0240000000000005" height="3.0240000000000005" fill="#000"/>
<rect x="400.99" y="187.69" width="3.0240000000000005" height="3.0240000000000005" fill="#000"/>
<rect x="400.99" y="191.99" width="3.0240000000000005" height="3.0240000000000005" fill="#000"/>
<rect x="405.09" y="191.79" width="3.0240000000000005" height="3.0240000000000005" fill="#000"/>
<rect x="398.89" y="196.89" width="3.0240000000000005" height="3.0240000000000005" fill="#000"/>
<rect x="402.99" y="198.29" width="3.0240000000000005" height="3.0240000000000005" fill="#000"/>
<rect x="398.89" y="202.69" width="3.0240000000000005" height="3.0240000000000005" fill="#000"/>
<rect x="402.99" y="202.69" width="3.0240000000000005" height="3.0240000000000005" fill="#000"/>
<rect x="388.99" y="205.69" width="3.0240000000000005" height="3.0240000000000005" fill="#000"/>
<rect x="393.09" y="207.09" width="3.0240000000000005" height="3.0240000000000005" fill="#000"/>
<rect x="397.19" y="208.09" width="3.0240000000000005" height="3.0240000000000005" fill="#000"/>
<rect x="400.99" y="208.79" width="3.0240000000000005" height="3.0240000000000005" fill="#000"/>
<rect x="405.09" y="207.19" width="3.0240000000000005" height="3.0240000000000005" fill="#000"/>
<rect x="409.19" y="206.79" width="3.0240000000000005" height="3.0240000000000005" fill="#000"/>
<rect x="412.99" y="205.09" width="3.0240000000000005" height="3.0240000000000005" fill="#000"/>
<rect x="402.99" y="211.59" width="3.0240000000000005" height="3.0240000000000005" fill="#000"/>
<rect x="398.89" y="214.99" width="3.0240000000000005" height="3.0240000000000005" fill="#000"/>
<circle cx="42.30" cy="306.60" r="1.4560000000000002" fill="#000"/>
<circle cx="46.40" cy="308.20" r="1.4560000000000002" fill="#000"/>
<circle cx="42.30" cy="317.10" r="1.4560000000000002" fill="#000"/>
<circle cx="46.40" cy="317.10" r="1.4560000000000002" fill="#000"/>
<circle cx="42.30" cy="325.60" r="1.4560000000000002" fill="#000"/>
<circle cx="46.40" cy="325.60" r="1.4560000000000002" fill="#000"/>
<circle cx="44.30" cy="329.80" r="1.4560000000000002" fill="#000"/>
<circle cx="48.40" cy="331.40" r="1.4560000000000002" fill="#000"/>
<circle cx="40.20" cy="334.20" r="1.4560000000000002" fill="#000"/>
<circle cx="44.30" cy="334.20" r="1.4560000000000002" fill="#000"/>
<circle cx="46.40" cy="337.30" r="1.4560000000000002" fill="#000"/>
<circle cx="42.30" cy="340.10" r="1.4560000000000002" fill="#000"/>
<rect x="72.00" y="292.50" width="2.8000000000000003" height="2.8000000000000003" fill="#000"/>
<rect x="69.90" y="297.90" width="2.8000000000000003" height="2.8000000000000003" fill="#000"/>
<rect x="74.00" y="301.10" width="2.8000000000000003" height="2.8000000000000003" fill="#000"/>
<rect x="72.00" y="305.20" width="2.8000000000000003" height="2.8000000000000003" fill="#000"/>
<rect x="72.00" y="315.70" width="2.8000000000000003" height="2.8000000000000003" fill="#000"/>
<rect x="69.90" y="319.80" width="2.8000000000000003" height="2.8000000000000003" fill="#000"/>
<rect x="74.00" y="319.80" width="2.8000000000000003" height="2.8000000000000003" fill="#000"/>
<rect x="64.10" y="323.20" width="2.8000000000000003" height="2.8000000000000003" fill="#000"/>
<rect x="68.20" y="323.20" width="2.8000000000000003" height="2.8000000000000003" fill="#000"/>
<rect x="75.70" y="323.20" width="2.8000000000000003" height="2.8000000000000003" fill="#000"/>
<rect x="79.80" y="323.20" width="2.8000000000000003" height="2.8000000000000003" fill="#000"/>
<rect x="72.00" y="325.30" width="2.8000000000000003" height="2.8000000000000003" fill="#000"/>
<rect x="63.40" y="327.30" width="2.8000000000000003" height="2.8000000000000003" fill="#000"/>
<rect x="66.90" y="327.30" width="2.8000000000000003" height="2.8000000000000003" fill="#000"/>
<rect x="69.90" y="327.30" width="2.8000000000000003" height="2.8000000000000003" fill="#000"/>
<rect x="74.00" y="327.30" width="2.8000000000000003" height="2.8000000000000003" fill="#000"/>
<rect x="76.70" y="327.30" width="2.8000000000000003" height="2.8000000000000003" fill="#000"/>
<rect x="80.20" y="327.30" width="2.8000000000000003" height="2.8000000000000003" fill="#000"/>
<rect x="65.50" y="329.40" width="2.8000000000000003" height="2.8000000000000003" fill="#000"/>
<rect x="69.90" y="329.40" width="2.8000000000000003" height="2.8000000000000003" fill="#000"/>
<rect x="72.00" y="329.40" width="2.8000000000000003" height="2.8000000000000003" fill="#000"/>
<rect x="74.00" y="329.40" width="2.8000000000000003" height="2.8000000000000003" fill="#000"/>
<rect x="77.80" y="329.40" width="2.8000000000000003" height="2.8000000000000003" fill="#000"/>
<rect x="63.40" y="331.40" width="2.8000000000000003" height="2.8000000000000003" fill="#000"/>
<rect x="66.90" y="331.40" width="2.8000000000000003" height="2.8000000000000003" fill="#000"/>
<rect x="79.80" y="331.40" width="2.8000000000000003" height="2.8000000000000003" fill="#000"/>
<rect x="69.90" y="334.10" width="2.8000000000000003" height="2.8000000000000003" fill="#000"/>
<rect x="73.70" y="334.10" width="2.8000000000000003" height="2.8000000000000003" fill="#000"/>
<rect x="76.40" y="334.10" width="2.8000000000000003" height="2.8000000000000003" fill="#000"/>
<rect x="72.00" y="339.90" width="2.8000000000000003" height="2.8000000000000003" fill="#000"/>
<rect x="65.80" y="343.00" width="2.8000000000000003" height="2.8000000000000003" fill="#000"/>
<rect x="77.80" y="343.00" width="2.8000000000000003" height="2.8000000000000003" fill="#000"/>
<rect x="69.90" y="346.20" width="2.8000000000000003" height="2.8000000000000003" fill="#000"/>
<rect x="74.00" y="346.20" width="2.8000000000000003" height="2.8000000000000003" fill="#000"/>
<rect x="77.80" y="347.10" width="2.8000000000000003" height="2.8000000000000003" fill="#000"/>
<rect x="65.80" y="348.90" width="2.8000000000000003" height="2.8000000000000003" fill="#000"/>
<rect x="69.90" y="350.50" width="2.8000000000000003" height="2.8000000000000003" fill="#000"/>
<rect x="74.00" y="350.50" width="2.8000000000000003" height="2.8000000000000003" fill="#000"/>
<path d="M100.00 294.13L101.46 296.75L98.54 296.75Z" fill="#000"/>
<path d="M104.10 292.73L105.56 295.35L102.64 295.35Z" fill="#000"/>
<path d="M98.00 300.93L99.46 303.55L96.54 303.55Z" fill="#000"/>
<path d="M106.20 300.93L107.66 303.55L104.74 303.55Z" fill="#000"/>
<path d="M102.10 304.23L103.56 306.85L100.64 306.85Z" fill="#000"/>
<path d="M102.10 312.83L103.56 315.45L100.64 315.45Z" fill="#000"/>
<path d="M106.20 314.13L107.66 316.75L104.74 316.75Z" fill="#000"/>
<path d="M98.00 317.63L99.46 320.25L96.54 320.25Z" fill="#000"/>
<path d="M102.10 316.93L103.56 319.55L100.64 319.55Z" fill="#000"/>
<path d="M106.20 318.23L107.66 320.85L104.74 320.85Z" fill="#000"/>
<path d="M102.10 321.43L103.56 324.05L100.64 324.05Z" fill="#000"/>
<path d="M94.30 325.73L95.76 328.35L92.84 328.35Z" fill="#000"/>
<path d="M98.00 325.73L99.46 328.35L96.54 328.35Z" fill="#000"/>
<path d="M102.10 325.73L103.56 328.35L100.64 328.35Z" fill="#000"/>
<path d="M106.20 325.73L107.66 328.35L104.74 328.35Z" fill="#000"/>
<path d="M109.90 325.73L111.36 328.35L108.44 328.35Z" fill="#000"/>
<path d="M94.30 330.03L95.76 332.65L92.84 332.65Z" fill="#000"/>
<path d="M98.00 330.03L99.46 332.65L96.54 332.65Z" fill="#000"/>
<path d="M102.10 330.03L103.56 332.65L100.64 332.65Z" fill="#000"/>
<path d="M106.20 330.03L107.66 332.65L104.74 332.65Z" fill="#000"/>
<path d="M109.90 330.03L111.36 332.65L108.44 332.65Z" fill="#000"/>
<path d="M98.00 332.23L99.46 334.85L96.54 334.85Z" fill="#000"/>
<path d="M102.10 332.23L103.56 334.85L100.64 334.85Z" fill="#000"/>
<path d="M106.20 332.23L107.66 334.85L104.74 334.85Z" fill="#000"/>
<path d="M94.30 335.33L95.76 337.95L92.84 337.95Z" fill="#000"/>
<path d="M96.60 335.33L98.06 337.95L95.14 337.95Z" fill="#000"/>
<path d="M100.00 335.33L101.46 337.95L98.54 337.95Z" fill="#000"/>
<path d="M102.10 335.33L103.56 337.95L100.64 337.95Z" fill="#000"/>
<path d="M104.10 335.33L105.56 337.95L102.64 337.95Z" fill="#000"/>
<path d="M106.20 335.33L107.66 337.95L104.74 337.95Z" fill="#000"/>
<path d="M109.90 335.33L111.36 337.95L108.44 337.95Z" fill="#000"/>
<path d="M94.30 338.73L95.76 341.35L92.84 341.35Z" fill="#000"/>
<path d="M98.00 338.73L99.46 341.35L96.54 341.35Z" fill="#000"/>
<path d="M102.10 338.73L103.56 341.35L100.64 341.35Z" fill="#000"/>
<path d="M106.20 338.73L107.66 341.35L104.74 341.35Z" fill="#000"/>
<path d="M109.90 338.73L111.36 341.35L108.44 341.35Z" fill="#000"/>
<path d="M98.00 341.53L99.46 344.15L96.54 344.15Z" fill="#000"/>
<path d="M102.10 341.53L103.56 344.15L100.64 344.15Z" fill="#000"/>
<path d="M106.20 341.53L107.66 344.15L104.74 344.15Z" fill="#000"/>
<path d="M98.00 344.23L99.46 346.85L96.54 346.85Z" fill="#000"/>
<path d="M106.20 344.23L107.66 346.85L104.74 346.85Z" fill="#000"/>
<path d="M102.10 347.33L103.56 349.95L100.64 349.95Z" fill="#000"/>
<path d="M104.10 347.33L105.56 349.95L102.64 349.95Z" fill="#000"/>
<path d="M100.00 351.43L101.46 354.05L98.54 354.05Z" fill="#000"/>
<rect x="224.30" y="327.40" width="2.8000000000000003" height="2.8000000000000003" fill="#000"/>
<rect x="228.30" y="327.10" width="2.8000000000000003" height="2.8000000000000003" fill="#000"/>
<rect x="222.30" y="345.60" width="2.8000000000000003" height="2.8000000000000003" fill="#000"/>
<rect x="230.40" y="344.50" width="2.8000000000000003" height="2.8000000000000003" fill="#000"/>
<rect x="226.30" y="346.90" width="2.8000000000000003" height="2.8000000000000003" fill="#000"/>
<rect x="219.60" y="349.60" width="2.8000000000000003" height="2.8000000000000003" fill="#000"/>
<rect x="224.20" y="349.60" width="2.8000000000000003" height="2.8000000000000003" fill="#000"/>
<rect x="228.50" y="349.60" width="2.8000000000000003" height="2.8000000000000003" fill="#000"/>
<rect x="232.50" y="349.60" width="2.8000000000000003" height="2.8000000000000003" fill="#000"/>
<rect x="218.80" y="352.40" width="2.8000000000000003" height="2.8000000000000003" fill="#000"/>
<rect x="221.00" y="352.40" width="2.8000000000000003" height="2.8000000000000003" fill="#000"/>
<rect x="223.20" y="352.40" width="2.8000000000000003" height="2.8000000000000003" fill="#000"/>
<rect x="225.40" y="352.40" width="2.8000000000000003" height="2.8000000000000003" fill="#000"/>
<rect x="227.60" y="352.40" width="2.8000000000000003" height="2.8000000000000003" fill="#000"/>
<rect x="229.80" y="352.40" width="2.8000000000000003" height="2.8000000000000003" fill="#000"/>
<rect x="232.00" y="352.40" width="2.8000000000000003" height="2.8000000000000003" fill="#000"/>
<rect x="234.10" y="352.40" width="2.8000000000000003" height="2.8000000000000003" fill="#000"/>
<rect x="219.40" y="354.20" width="2.8000000000000003" height="2.8000000000000003" fill="#000"/>
<rect x="221.40" y="354.20" width="2.8000000000000003" height="2.8000000000000003" fill="#000"/>
<rect x="230.10" y="354.20" width="2.8000000000000003" height="2.8000000000000003" fill="#000"/>
<rect x="232.20" y="354.20" width="2.8000000000000003" height="2.8000000000000003" fill="#000"/>
<rect x="221.10" y="355.80" width="2.8000000000000003" height="2.8000000000000003" fill="#000"/>
<rect x="223.10" y="355.80" width="2.8000000000000003" height="2.8000000000000003" fill="#000"/>
<rect x="228.10" y="355.80" width="2.8000000000000003" height="2.8000000000000003" fill="#000"/>
<rect x="230.40" y="355.80" width="2.8000000000000003" height="2.8000000000000003" fill="#000"/>
<rect x="223.40" y="357.20" width="2.8000000000000003" height="2.8000000000000003" fill="#000"/>
<rect x="225.40" y="357.20" width="2.8000000000000003" height="2.8000000000000003" fill="#000"/>
<rect x="227.40" y="357.20" width="2.8000000000000003" height="2.8000000000000003" fill="#000"/>
<rect x="219.30" y="360.40" width="2.8000000000000003" height="2.8000000000000003" fill="#000"/>
<rect x="222.60" y="360.40" width="2.8000000000000003" height="2.8000000000000003" fill="#000"/>
<rect x="226.30" y="362.30" width="2.8000000000000003" height="2.8000000000000003" fill="#000"/>
<rect x="229.60" y="361.50" width="2.8000000000000003" height="2.8000000000000003" fill="#000"/>
<rect x="233.10" y="360.40" width="2.8000000000000003" height="2.8000000000000003" fill="#000"/>
<path d="M253.80 294.61L255.37 297.43L252.23 297.43Z" fill="#000"/>
<path d="M253.80 323.21L255.37 326.03L252.23 326.03Z" fill="#000"/>
<path d="M253.80 329.41L255.37 332.23L252.23 332.23Z" fill="#000"/>
<path d="M251.50 335.21L253.07 338.03L249.93 338.03Z" fill="#000"/>
<path d="M256.20 337.11L257.77 339.93L254.63 339.93Z" fill="#000"/>
<path d="M253.80 341.41L255.37 344.23L252.23 344.23Z" fill="#000"/>
<path d="M249.20 343.71L250.77 346.53L247.63 346.53Z" fill="#000"/>
<path d="M258.50 343.71L260.07 346.53L256.93 346.53Z" fill="#000"/>
<path d="M251.50 345.71L253.07 348.53L249.93 348.53Z" fill="#000"/>
<path d="M256.20 346.01L257.77 348.83L254.63 348.83Z" fill="#000"/>
<path d="M247.20 347.51L248.77 350.33L245.63 350.33Z" fill="#000"/>
<path d="M253.80 348.31L255.37 351.13L252.23 351.13Z" fill="#000"/>
<path d="M260.00 347.51L261.57 350.33L258.43 350.33Z" fill="#000"/>
<path d="M249.20 350.61L250.77 353.43L247.63 353.43Z" fill="#000"/>
<path d="M256.20 349.81L257.77 352.63L254.63 352.63Z" fill="#000"/>
<path d="M246.90 352.91L248.47 355.73L245.33 355.73Z" fill="#000"/>
<path d="M251.50 352.51L253.07 355.33L249.93 355.33Z" fill="#000"/>
<path d="M258.50 352.51L260.07 355.33L256.93 355.33Z" fill="#000"/>
<path d="M253.80 354.91L255.37 357.73L252.23 357.73Z" fill="#000"/>
<path d="M246.20 356.51L247.77 359.33L244.63 359.33Z" fill="#000"/>
<path d="M260.80 356.01L262.37 358.83L259.23 358.83Z" fill="#000"/>
<path d="M249.20 359.11L250.77 361.93L247.63 361.93Z" fill="#000"/>
<path d="M251.50 359.11L253.07 361.93L249.93 361.93Z" fill="#000"/>
<path d="M253.80 359.11L255.37 361.93L252.23 361.93Z" fill="#000"/>
<path d="M256.20 359.11L257.77 361.93L254.63 361.93Z" fill="#000"/>
<path d="M258.50 359.11L260.07 361.93L256.93 361.93Z" fill="#000"/>
<circle cx="324.30" cy="300.40" r="1.4560000000000002" fill="#000"/>
<circle cx="317.70" cy="310.70" r="1.4560000000000002" fill="#000"/>
<circle cx="324.30" cy="309.60" r="1.4560000000000002" fill="#000"/>
<circle cx="322.00" cy="314.20" r="1.4560000000000002" fill="#000"/>
<circle cx="326.90" cy="314.70" r="1.4560000000000002" fill="#000"/>
<circle cx="316.20" cy="316.80" r="1.4560000000000002" fill="#000"/>
<circle cx="319.70" cy="317.30" r="1.4560000000000002" fill="#000"/>
<circle cx="329.20" cy="316.50" r="1.4560000000000002" fill="#000"/>
<circle cx="332.30" cy="316.50" r="1.4560000000000002" fill="#000"/>
<circle cx="322.60" cy="319.90" r="1.4560000000000002" fill="#000"/>
<circle cx="325.70" cy="319.30" r="1.4560000000000002" fill="#000"/>
<circle cx="330.00" cy="314.50" r="1.4560000000000002" fill="#000"/>
<rect x="350.90" y="299.00" width="2.8000000000000003" height="2.8000000000000003" fill="#000"/>
<rect x="351.00" y="310.20" width="2.8000000000000003" height="2.8000000000000003" fill="#000"/>
<rect x="343.20" y="314.50" width="2.8000000000000003" height="2.8000000000000003" fill="#000"/>
<rect x="358.90" y="313.50" width="2.8000000000000003" height="2.8000000000000003" fill="#000"/>
<rect x="355.60" y="315.50" width="2.8000000000000003" height="2.8000000000000003" fill="#000"/>
<rect x="346.10" y="316.80" width="2.8000000000000003" height="2.8000000000000003" fill="#000"/>
<rect x="349.40" y="316.80" width="2.8000000000000003" height="2.8000000000000003" fill="#000"/>
<rect x="352.70" y="316.80" width="2.8000000000000003" height="2.8000000000000003" fill="#000"/>
<rect x="343.50" y="318.70" width="2.8000000000000003" height="2.8000000000000003" fill="#000"/>
<rect x="345.50" y="318.70" width="2.8000000000000003" height="2.8000000000000003" fill="#000"/>
<rect x="347.40" y="318.70" width="2.8000000000000003" height="2.8000000000000003" fill="#000"/>
<rect x="354.60" y="318.70" width="2.8000000000000003" height="2.8000000000000003" fill="#000"/>
<rect x="356.60" y="318.70" width="2.8000000000000003" height="2.8000000000000003" fill="#000"/>
<rect x="358.60" y="318.70" width="2.8000000000000003" height="2.8000000000000003" fill="#000"/>
<rect x="349.70" y="320.70" width="2.8000000000000003" height="2.8000000000000003" fill="#000"/>
<rect x="351.60" y="321.60" width="2.8000000000000003" height="2.8000000000000003" fill="#000"/>
<rect x="348.10" y="321.10" width="2.8000000000000003" height="2.8000000000000003" fill="#000"/>
<rect x="347.40" y="324.00" width="2.8000000000000003" height="2.8000000000000003" fill="#000"/>
<rect x="350.70" y="324.00" width="2.8000000000000003" height="2.8000000000000003" fill="#000"/>
<rect x="353.60" y="324.00" width="2.8000000000000003" height="2.8000000000000003" fill="#000"/>
<rect x="356.90" y="324.00" width="2.8000000000000003" height="2.8000000000000003" fill="#000"/>
<rect x="344.80" y="325.60" width="2.8000000000000003" height="2.8000000000000003" fill="#000"/>
<rect x="348.10" y="325.60" width="2.8000000000000003" height="2.8000000000000003" fill="#000"/>
<rect x="354.30" y="325.60" width="2.8000000000000003" height="2.8000000000000003" fill="#000"/>
<rect x="351.10" y="325.60" width="2.8000000000000003" height="2.8000000000000003" fill="#000"/>
<rect x="349.40" y="327.30" width="2.8000000000000003" height="2.8000000000000003" fill="#000"/>
<rect x="352.00" y="327.30" width="2.8000000000000003" height="2.8000000000000003" fill="#000"/>
<rect x="342.80" y="329.60" width="2.8000000000000003" height="2.8000000000000003" fill="#000"/>
<rect x="346.10" y="329.60" width="2.8000000000000003" height="2.8000000000000003" fill="#000"/>
<rect x="349.40" y="329.60" width="2.8000000000000003" height="2.8000000000000003" fill="#000"/>
<rect x="355.60" y="329.60" width="2.8000000000000003" height="2.8000000000000003" fill="#000"/>
<rect x="358.90" y="329.60" width="2.8000000000000003" height="2.8000000000000003" fill="#000"/>
<rect x="352.30" y="333.50" width="2.8000000000000003" height="2.8000000000000003" fill="#000"/>
<rect x="351.00" y="340.00" width="2.8000000000000003" height="2.8000000000000003" fill="#000"/>
<path d="M380.50 302.87L382.01 305.59L378.99 305.59Z" fill="#000"/>
<path d="M378.50 314.57L380.01 317.29L376.99 317.29Z" fill="#000"/>
<path d="M382.60 313.07L384.11 315.79L381.09 315.79Z" fill="#000"/>
<path d="M378.50 319.87L380.01 322.59L376.99 322.59Z" fill="#000"/>
<path d="M382.60 321.07L384.11 323.79L381.09 323.79Z" fill="#000"/>
<path d="M373.10 324.17L374.61 326.89L371.59 326.89Z" fill="#000"/>
<path d="M376.90 325.97L378.41 328.69L375.39 328.69Z" fill="#000"/>
<path d="M380.50 327.57L382.01 330.29L378.99 330.29Z" fill="#000"/>
<path d="M384.20 325.97L385.71 328.69L382.69 328.69Z" fill="#000"/>
<path d="M387.70 324.17L389.21 326.89L386.19 326.89Z" fill="#000"/>
<path d="M373.10 331.07L374.61 333.79L371.59 333.79Z" fill="#000"/>
<path d="M376.90 332.57L378.41 335.29L375.39 335.29Z" fill="#000"/>
<path d="M380.50 333.67L382.01 336.39L378.99 336.39Z" fill="#000"/>
<path d="M384.20 331.87L385.71 334.59L382.69 334.59Z" fill="#000"/>
<path d="M388.50 334.57L390.01 337.29L386.99 337.29Z" fill="#000"/>
<path d="M372.30 336.77L373.81 339.49L370.79 339.49Z" fill="#000"/>
<path d="M375.80 338.77L377.31 341.49L374.29 341.49Z" fill="#000"/>
<path d="M378.90 338.77L380.41 341.49L377.39 341.49Z" fill="#000"/>
<path d="M382.00 338.77L383.51 341.49L380.49 341.49Z" fill="#000"/>
<path d="M385.40 337.97L386.91 340.69L383.89 340.69Z" fill="#000"/>
<path d="M376.50 342.87L378.01 345.59L374.99 345.59Z" fill="#000"/>
<path d="M380.50 345.37L382.01 348.09L378.99 348.09Z" fill="#000"/>
<path d="M384.60 342.27L386.11 344.99L383.09 344.99Z" fill="#000"/>
<path d="M380.50 356.77L382.01 359.49L378.99 359.49Z" fill="#000"/>
<path d="M388.50 329.97L390.01 332.69L386.99 332.69Z" fill="#000"/>
<circle cx="451.90" cy="328.10" r="1.4560000000000002" fill="#000"/>
<circle cx="445.60" cy="330.90" r="1.4560000000000002" fill="#000"/>
<circle cx="457.70" cy="330.30" r="1.4560000000000002" fill="#000"/>
<circle cx="453.80" cy="332.30" r="1.4560000000000002" fill="#000"/>
<circle cx="449.80" cy="333.90" r="1.4560000000000002" fill="#000"/>
<circle cx="445.10" cy="336.00" r="1.4560000000000002" fill="#000"/>
<circle cx="453.80" cy="337.10" r="1.4560000000000002" fill="#000"/>
<circle cx="457.70" cy="337.40" r="1.4560000000000002" fill="#000"/>
<circle cx="449.00" cy="338.60" r="1.4560000000000002" fill="#000"/>
<circle cx="453.80" cy="339.10" r="1.4560000000000002" fill="#000"/>
<circle cx="447.50" cy="341.30" r="1.4560000000000002" fill="#000"/>
<circle cx="455.00" cy="342.90" r="1.4560000000000002" fill="#000"/>
<circle cx="451.90" cy="344.50" r="1.4560000000000002" fill="#000"/>
<circle cx="478.60" cy="307.20" r="1.4560000000000002" fill="#000"/>
<circle cx="476.50" cy="312.50" r="1.4560000000000002" fill="#000"/>
<circle cx="478.60" cy="311.90" r="1.4560000000000002" fill="#000"/>
<circle cx="480.70" cy="316.40" r="1.4560000000000002" fill="#000"/>
<circle cx="484.90" cy="318.30" r="1.4560000000000002" fill="#000"/>
<circle cx="472.30" cy="320.60" r="1.4560000000000002" fill="#000"/>
<circle cx="471.00" cy="322.80" r="1.4560000000000002" fill="#000"/>
<circle cx="476.50" cy="322.10" r="1.4560000000000002" fill="#000"/>
<circle cx="480.70" cy="322.10" r="1.4560000000000002" fill="#000"/>
<circle cx="474.00" cy="324.50" r="1.4560000000000002" fill="#000"/>
<circle cx="486.10" cy="324.20" r="1.4560000000000002" fill="#000"/>
<circle cx="483.20" cy="325.60" r="1.4560000000000002" fill="#000"/>
<circle cx="476.90" cy="326.30" r="1.4560000000000002" fill="#000"/>
<circle cx="479.40" cy="327.10" r="1.4560000000000002" fill="#000"/>
<circle cx="481.50" cy="327.10" r="1.4560000000000002" fill="#000"/>
<circle cx="472.70" cy="330.30" r="1.4560000000000002" fill="#000"/>
<circle cx="474.70" cy="330.30" r="1.4560000000000002" fill="#000"/>
<circle cx="476.70" cy="330.90" r="1.4560000000000002" fill="#000"/>
<circle cx="478.70" cy="330.90" r="1.4560000000000002" fill="#000"/>
<circle cx="480.70" cy="330.90" r="1.4560000000000002" fill="#000"/>
<circle cx="482.70" cy="330.90" r="1.4560000000000002" fill="#000"/>
<circle cx="484.70" cy="330.30" r="1.4560000000000002" fill="#000"/>
<circle cx="486.10" cy="330.30" r="1.4560000000000002" fill="#000"/>
<circle cx="485.70" cy="332.60" r="1.4560000000000002" fill="#000"/>
<circle cx="471.40" cy="333.90" r="1.4560000000000002" fill="#000"/>
<circle cx="474.80" cy="333.90" r="1.4560000000000002" fill="#000"/>
<circle cx="478.60" cy="336.00" r="1.4560000000000002" fill="#000"/>
<circle cx="482.30" cy="334.50" r="1.4560000000000002" fill="#000"/>
<circle cx="474.40" cy="340.10" r="1.4560000000000002" fill="#000"/>
<circle cx="482.80" cy="340.70" r="1.4560000000000002" fill="#000"/>
<circle cx="478.60" cy="343.70" r="1.4560000000000002" fill="#000"/>
<path d="M503.90 307.99L505.30 310.51L502.50 310.51Z" fill="#000"/>
<path d="M507.70 306.09L509.10 308.61L506.30 308.61Z" fill="#000"/>
<path d="M505.80 313.49L507.20 316.01L504.40 316.01Z" fill="#000"/>
<path d="M503.50 317.39L504.90 319.91L502.10 319.91Z" fill="#000"/>
<path d="M508.20 317.39L509.60 319.91L506.80 319.91Z" fill="#000"/>
<path d="M498.70 319.79L500.10 322.31L497.30 322.31Z" fill="#000"/>
<path d="M512.40 319.29L513.80 321.81L511.00 321.81Z" fill="#000"/>
<path d="M501.10 322.19L502.50 324.71L499.70 324.71Z" fill="#000"/>
<path d="M505.80 321.39L507.20 323.91L504.40 323.91Z" fill="#000"/>
<path d="M509.80 322.19L511.20 324.71L508.40 324.71Z" fill="#000"/>
<path d="M502.70 324.49L504.10 327.01L501.30 327.01Z" fill="#000"/>
<path d="M508.20 324.49L509.60 327.01L506.80 327.01Z" fill="#000"/>
<path d="M513.40 324.09L514.80 326.61L512.00 326.61Z" fill="#000"/>
<path d="M498.70 326.89L500.10 329.41L497.30 329.41Z" fill="#000"/>
<path d="M505.80 327.69L507.20 330.21L504.40 330.21Z" fill="#000"/>
<path d="M501.10 329.99L502.50 332.51L499.70 332.51Z" fill="#000"/>
<path d="M508.20 330.79L509.60 333.31L506.80 333.31Z" fill="#000"/>
<path d="M512.10 329.99L513.50 332.51L510.70 332.51Z" fill="#000"/>
<path d="M498.70 330.79L500.10 333.31L497.30 333.31Z" fill="#000"/>
<path d="M504.20 332.39L505.60 334.91L502.80 334.91Z" fill="#000"/>
<path d="M510.60 331.89L512.00 334.41L509.20 334.41Z" fill="#000"/>
<path d="M507.40 335.09L508.80 337.61L506.00 337.61Z" fill="#000"/>
<path d="M503.50 337.89L504.90 340.41L502.10 340.41Z" fill="#000"/>
<circle cx="76.30" cy="446.50" r="1.4560000000000002" fill="#000"/>
<circle cx="76.30" cy="458.20" r="1.4560000000000002" fill="#000"/>
<circle cx="74.20" cy="478.50" r="1.4560000000000002" fill="#000"/>
<circle cx="77.80" cy="476.30" r="1.4560000000000002" fill="#000"/>
<circle cx="79.80" cy="483.40" r="1.4560000000000002" fill="#000"/>
<circle cx="72.30" cy="485.80" r="1.4560000000000002" fill="#000"/>
<circle cx="76.30" cy="486.50" r="1.4560000000000002" fill="#000"/>
<circle cx="68.60" cy="489.20" r="1.4560000000000002" fill="#000"/>
<circle cx="72.60" cy="490.80" r="1.4560000000000002" fill="#000"/>
<circle cx="77.50" cy="490.50" r="1.4560000000000002" fill="#000"/>
<circle cx="80.90" cy="489.50" r="1.4560000000000002" fill="#000"/>
<circle cx="84.00" cy="489.20" r="1.4560000000000002" fill="#000"/>
<circle cx="70.60" cy="493.80" r="1.4560000000000002" fill="#000"/>
<circle cx="74.50" cy="493.10" r="1.4560000000000002" fill="#000"/>
<circle cx="80.60" cy="493.80" r="1.4560000000000002" fill="#000"/>
<circle cx="74.20" cy="496.90" r="1.4560000000000002" fill="#000"/>
<circle cx="77.80" cy="497.70" r="1.4560000000000002" fill="#000"/>
<circle cx="83.70" cy="498.20" r="1.4560000000000002" fill="#000"/>
<circle cx="68.30" cy="499.20" r="1.4560000000000002" fill="#000"/>
<circle cx="71.70" cy="500.00" r="1.4560000000000002" fill="#000"/>
<circle cx="75.20" cy="500.80" r="1.4560000000000002" fill="#000"/>
<circle cx="79.10" cy="500.30" r="1.4560000000000002" fill="#000"/>
<circle cx="81.80" cy="498.50" r="1.4560000000000002" fill="#000"/>
<circle cx="72.60" cy="503.10" r="1.4560000000000002" fill="#000"/>
<circle cx="76.30" cy="502.80" r="1.4560000000000002" fill="#000"/>
<circle cx="79.80" cy="503.10" r="1.4560000000000002" fill="#000"/>
<circle cx="76.30" cy="506.50" r="1.4560000000000002" fill="#000"/>
<circle cx="77.80" cy="510.00" r="1.4560000000000002" fill="#000"/>
<circle cx="74.20" cy="512.30" r="1.4560000000000002" fill="#000"/>
<path d="M103.40 447.11L104.97 449.93L101.83 449.93Z" fill="#000"/>
<path d="M101.80 458.61L103.37 461.43L100.23 461.43Z" fill="#000"/>
<path d="M105.50 458.01L107.07 460.83L103.93 460.83Z" fill="#000"/>
<path d="M101.80 467.21L103.37 470.03L100.23 470.03Z" fill="#000"/>
<path d="M105.50 471.41L107.07 474.23L103.93 474.23Z" fill="#000"/>
<path d="M105.20 473.41L106.77 476.23L103.63 476.23Z" fill="#000"/>
<path d="M101.80 475.51L103.37 478.33L100.23 478.33Z" fill="#000"/>
<path d="M101.80 479.11L103.37 481.93L100.23 481.93Z" fill="#000"/>
<path d="M105.20 481.71L106.77 484.53L103.63 484.53Z" fill="#000"/>
<path d="M101.80 489.81L103.37 492.63L100.23 492.63Z" fill="#000"/>
<path d="M103.40 494.01L104.97 496.83L101.83 496.83Z" fill="#000"/>
<path d="M96.00 496.51L97.57 499.33L94.43 499.33Z" fill="#000"/>
<path d="M99.10 497.51L100.67 500.33L97.53 500.33Z" fill="#000"/>
<path d="M102.20 496.81L103.77 499.63L100.63 499.63Z" fill="#000"/>
<path d="M106.00 496.51L107.57 499.33L104.43 499.33Z" fill="#000"/>
<path d="M108.60 497.51L110.17 500.33L107.03 500.33Z" fill="#000"/>
<path d="M111.40 496.01L112.97 498.83L109.83 498.83Z" fill="#000"/>
<path d="M96.80 500.61L98.37 503.43L95.23 503.43Z" fill="#000"/>
<path d="M100.30 501.71L101.87 504.53L98.73 504.53Z" fill="#000"/>
<path d="M103.40 500.61L104.97 503.43L101.83 503.43Z" fill="#000"/>
<path d="M107.10 501.41L108.67 504.23L105.53 504.23Z" fill="#000"/>
<path d="M110.60 500.11L112.17 502.93L109.03 502.93Z" fill="#000"/>
<path d="M103.70 503.71L105.27 506.53L102.13 506.53Z" fill="#000"/>
<path d="M104.90 507.81L106.47 510.63L103.33 510.63Z" fill="#000"/>
<path d="M101.40 510.61L102.97 513.43L99.83 513.43Z" fill="#000"/>
<rect x="199.86" y="455.66" width="2.688" height="2.688" fill="#000"/>
<rect x="199.86" y="470.76" width="2.688" height="2.688" fill="#000"/>
<rect x="198.06" y="478.16" width="2.688" height="2.688" fill="#000"/>
<rect x="201.56" y="479.86" width="2.688" height="2.688" fill="#000"/>
<rect x="195.86" y="480.76" width="2.688" height="2.688" fill="#000"/>
<rect x="203.66" y="482.46" width="2.688" height="2.688" fill="#000"/>
<rect x="198.06" y="484.26" width="2.688" height="2.688" fill="#000"/>
<rect x="200.16" y="485.56" width="2.688" height="2.688" fill="#000"/>
<rect x="194.16" y="488.56" width="2.688" height="2.688" fill="#000"/>
<rect x="201.96" y="488.06" width="2.688" height="2.688" fill="#000"/>
<rect x="205.76" y="489.06" width="2.688" height="2.688" fill="#000"/>
<rect x="192.36" y="491.96" width="2.688" height="2.688" fill="#000"/>
<rect x="196.76" y="492.56" width="2.688" height="2.688" fill="#000"/>
<rect x="201.56" y="491.46" width="2.688" height="2.688" fill="#000"/>
<rect x="207.06" y="492.56" width="2.688" height="2.688" fill="#000"/>
<rect x="194.16" y="494.56" width="2.688" height="2.688" fill="#000"/>
<rect x="199.86" y="494.96" width="2.688" height="2.688" fill="#000"/>
<rect x="203.96" y="494.26" width="2.688" height="2.688" fill="#000"/>
<rect x="192.36" y="497.16" width="2.688" height="2.688" fill="#000"/>
<rect x="197.06" y="497.66" width="2.688" height="2.688" fill="#000"/>
<rect x="207.46" y="497.16" width="2.688" height="2.688" fill="#000"/>
<rect x="195.86" y="499.76" width="2.688" height="2.688" fill="#000"/>
<rect x="200.16" y="500.16" width="2.688" height="2.688" fill="#000"/>
<rect x="203.66" y="499.76" width="2.688" height="2.688" fill="#000"/>
<rect x="198.06" y="502.86" width="2.688" height="2.688" fill="#000"/>
<rect x="201.96" y="504.66" width="2.688" height="2.688" fill="#000"/>
<rect x="201.56" y="508.76" width="2.688" height="2.688" fill="#000"/>
<rect x="198.06" y="510.16" width="2.688" height="2.688" fill="#000"/>
<path d="M228.90 444.41L230.47 447.23L227.33 447.23Z" fill="#000"/>
<path d="M224.90 451.01L226.47 453.83L223.33 453.83Z" fill="#000"/>
<path d="M228.90 452.71L230.47 455.53L227.33 455.53Z" fill="#000"/>
<path d="M232.70 451.81L234.27 454.63L231.13 454.63Z" fill="#000"/>
<path d="M226.60 472.11L228.17 474.93L225.03 474.93Z" fill="#000"/>
<path d="M230.60 472.11L232.17 474.93L229.03 474.93Z" fill="#000"/>
<path d="M228.90 476.11L230.47 478.93L227.33 478.93Z" fill="#000"/>
<path d="M220.60 478.31L222.17 481.13L219.03 481.13Z" fill="#000"/>
<path d="M224.40 479.51L225.97 482.33L222.83 482.33Z" fill="#000"/>
<path d="M228.30 480.01L229.87 482.83L226.73 482.83Z" fill="#000"/>
<path d="M232.30 479.01L233.87 481.83L230.73 481.83Z" fill="#000"/>
<path d="M236.10 478.31L237.67 481.13L234.53 481.13Z" fill="#000"/>
<path d="M226.60 482.51L228.17 485.33L225.03 485.33Z" fill="#000"/>
<path d="M230.60 482.51L232.17 485.33L229.03 485.33Z" fill="#000"/>
<path d="M234.00 483.01L235.57 485.83L232.43 485.83Z" fill="#000"/>
<path d="M225.70 487.31L227.27 490.13L224.13 490.13Z" fill="#000"/>
<path d="M230.90 487.31L232.47 490.13L229.33 490.13Z" fill="#000"/>
<path d="M224.90 490.81L226.47 493.63L223.33 493.63Z" fill="#000"/>
<path d="M228.90 491.61L230.47 494.43L227.33 494.43Z" fill="#000"/>
<path d="M232.30 491.11L233.87 493.93L230.73 493.93Z" fill="#000"/>
<path d="M228.90 499.11L230.47 501.93L227.33 501.93Z" fill="#000"/>
<path d="M228.90 504.61L230.47 507.43L227.33 507.43Z" fill="#000"/>
<path d="M230.60 506.71L232.17 509.53L229.03 509.53Z" fill="#000"/>
<path d="M226.60 508.91L228.17 511.73L225.03 511.73Z" fill="#000"/>
<circle cx="298.20" cy="489.40" r="1.4560000000000002" fill="#000"/>
<circle cx="295.20" cy="508.00" r="1.4560000000000002" fill="#000"/>
<circle cx="300.40" cy="507.10" r="1.4560000000000002" fill="#000"/>
<circle cx="298.20" cy="511.40" r="1.4560000000000002" fill="#000"/>
<circle cx="302.10" cy="511.40" r="1.4560000000000002" fill="#000"/>
<rect x="324.46" y="467.66" width="2.688" height="2.688" fill="#000"/>
<rect x="320.56" y="471.46" width="2.688" height="2.688" fill="#000"/>
<rect x="327.96" y="471.16" width="2.688" height="2.688" fill="#000"/>
<rect x="324.46" y="474.26" width="2.688" height="2.688" fill="#000"/>
<rect x="324.46" y="478.06" width="2.688" height="2.688" fill="#000"/>
<rect x="318.76" y="479.76" width="2.688" height="2.688" fill="#000"/>
<rect x="322.76" y="481.16" width="2.688" height="2.688" fill="#000"/>
<rect x="330.26" y="480.66" width="2.688" height="2.688" fill="#000"/>
<rect x="326.26" y="484.16" width="2.688" height="2.688" fill="#000"/>
<rect x="321.96" y="489.36" width="2.688" height="2.688" fill="#000"/>
<rect x="321.96" y="491.16" width="2.688" height="2.688" fill="#000"/>
<rect x="326.26" y="493.26" width="2.688" height="2.688" fill="#000"/>
<rect x="316.36" y="495.36" width="2.688" height="2.688" fill="#000"/>
<rect x="320.16" y="495.36" width="2.688" height="2.688" fill="#000"/>
<rect x="323.96" y="495.36" width="2.688" height="2.688" fill="#000"/>
<rect x="327.96" y="495.36" width="2.688" height="2.688" fill="#000"/>
<rect x="332.26" y="495.36" width="2.688" height="2.688" fill="#000"/>
<rect x="318.76" y="497.26" width="2.688" height="2.688" fill="#000"/>
<rect x="322.76" y="497.26" width="2.688" height="2.688" fill="#000"/>
<rect x="326.76" y="497.26" width="2.688" height="2.688" fill="#000"/>
<rect x="330.56" y="497.26" width="2.688" height="2.688" fill="#000"/>
<rect x="324.46" y="498.86" width="2.688" height="2.688" fill="#000"/>
<rect x="324.46" y="503.16" width="2.688" height="2.688" fill="#000"/>
<rect x="326.26" y="507.46" width="2.688" height="2.688" fill="#000"/>
<rect x="322.26" y="509.26" width="2.688" height="2.688" fill="#000"/>
<path d="M353.00 457.01L354.57 459.83L351.43 459.83Z" fill="#000"/>
<path d="M353.00 461.31L354.57 464.13L351.43 464.13Z" fill="#000"/>
<path d="M353.00 465.91L354.57 468.73L351.43 468.73Z" fill="#000"/>
<path d="M354.70 470.41L356.27 473.23L353.13 473.23Z" fill="#000"/>
<path d="M351.30 472.51L352.87 475.33L349.73 475.33Z" fill="#000"/>
<path d="M349.20 475.11L350.77 477.93L347.63 477.93Z" fill="#000"/>
<path d="M353.00 476.01L354.57 478.83L351.43 478.83Z" fill="#000"/>
<path d="M357.00 475.61L358.57 478.43L355.43 478.43Z" fill="#000"/>
<path d="M349.20 487.21L350.77 490.03L347.63 490.03Z" fill="#000"/>
<path d="M353.00 489.81L354.57 492.63L351.43 492.63Z" fill="#000"/>
<path d="M357.00 489.51L358.57 492.33L355.43 492.33Z" fill="#000"/>
<path d="M350.90 491.61L352.47 494.43L349.33 494.43Z" fill="#000"/>
<path d="M345.70 495.01L347.27 497.83L344.13 497.83Z" fill="#000"/>
<path d="M349.20 495.41L350.77 498.23L347.63 498.23Z" fill="#000"/>
<path d="M353.00 497.61L354.57 500.43L351.43 500.43Z" fill="#000"/>
<path d="M356.50 495.41L358.07 498.23L354.93 498.23Z" fill="#000"/>
<path d="M359.90 495.41L361.47 498.23L358.33 498.23Z" fill="#000"/>
<path d="M350.10 500.21L351.67 503.03L348.53 503.03Z" fill="#000"/>
<path d="M354.70 500.21L356.27 503.03L353.13 503.03Z" fill="#000"/>
<path d="M352.70 502.81L354.27 505.63L351.13 505.63Z" fill="#000"/>
<path d="M354.70 505.71L356.27 508.53L353.13 508.53Z" fill="#000"/>
<path d="M351.30 509.21L352.87 512.03L349.73 512.03Z" fill="#000"/>
<circle cx="454.30" cy="447.80" r="1.5120000000000002" fill="#000"/>
<circle cx="454.30" cy="452.70" r="1.5120000000000002" fill="#000"/>
<circle cx="454.30" cy="461.70" r="1.5120000000000002" fill="#000"/>
<circle cx="454.30" cy="470.30" r="1.5120000000000002" fill="#000"/>
<circle cx="451.10" cy="473.80" r="1.5120000000000002" fill="#000"/>
<circle cx="450.80" cy="476.60" r="1.5120000000000002" fill="#000"/>
<circle cx="457.70" cy="476.60" r="1.5120000000000002" fill="#000"/>
<circle cx="454.30" cy="476.60" r="1.5120000000000002" fill="#000"/>
<circle cx="454.30" cy="480.40" r="1.5120000000000002" fill="#000"/>
<circle cx="456.00" cy="486.40" r="1.5120000000000002" fill="#000"/>
<circle cx="452.00" cy="489.90" r="1.5120000000000002" fill="#000"/>
<circle cx="497.00" cy="461.70" r="1.5120000000000002" fill="#000"/>
<circle cx="490.90" cy="467.90" r="1.5120000000000002" fill="#000"/>
<circle cx="494.70" cy="470.30" r="1.5120000000000002" fill="#000"/>
<circle cx="499.20" cy="469.10" r="1.5120000000000002" fill="#000"/>
<circle cx="502.70" cy="466.90" r="1.5120000000000002" fill="#000"/>
<circle cx="497.00" cy="474.80" r="1.5120000000000002" fill="#000"/>
<circle cx="492.70" cy="478.30" r="1.5120000000000002" fill="#000"/>
<circle cx="497.00" cy="479.00" r="1.5120000000000002" fill="#000"/>
<circle cx="501.00" cy="479.00" r="1.5120000000000002" fill="#000"/>
<circle cx="494.70" cy="485.60" r="1.5120000000000002" fill="#000"/>
<circle cx="499.20" cy="486.90" r="1.5120000000000002" fill="#000"/>
<circle cx="497.00" cy="491.60" r="1.5120000000000002" fill="#000"/>
<line x1="219.40" y1="353.20" x2="236.10" y2="353.20" stroke="#aaa" stroke-width="1.2" stroke-linecap="butt"/>
<line x1="343.20" y1="323.70" x2="361.30" y2="323.70" stroke="#aaa" stroke-width="1.2" stroke-linecap="butt"/>
<line x1="444.30" y1="336.30" x2="460.90" y2="336.30" stroke="#999" stroke-width="1.2" stroke-linecap="butt"/>
<line x1="469.80" y1="327.30" x2="487.80" y2="327.30" stroke="#999" stroke-width="1.0" stroke-linecap="butt"/>
<line x1="497.10" y1="325.20" x2="514.50" y2="325.20" stroke="#555" stroke-width="1.0" stroke-linecap="butt"/>
</svg>
</body></html>
